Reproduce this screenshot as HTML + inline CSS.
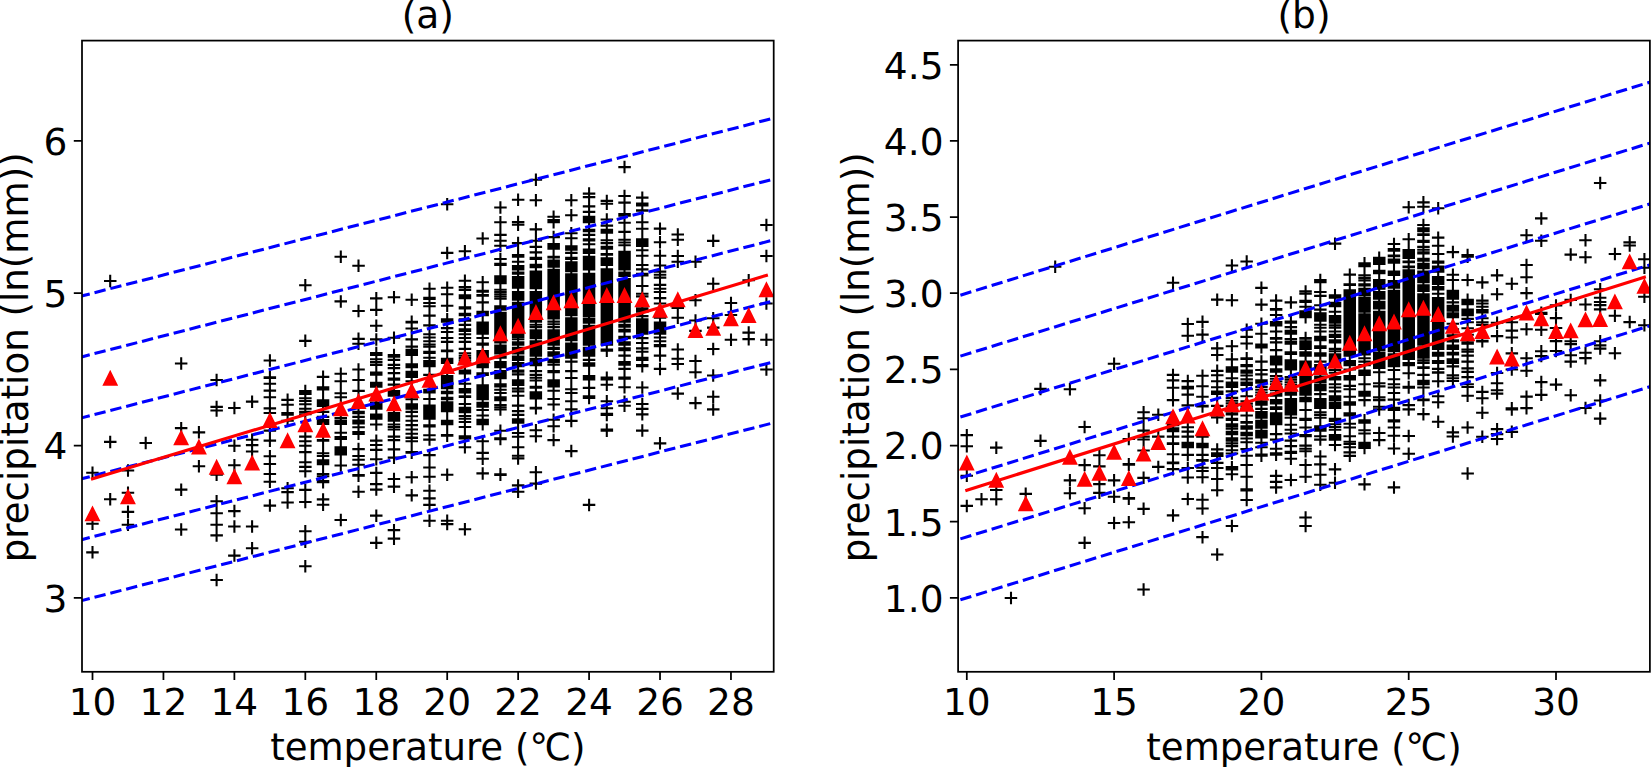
<!DOCTYPE html>
<html><head><meta charset="utf-8"><title>precipitation vs temperature</title>
<style>
html,body{margin:0;padding:0;background:#fff;}
body{width:1651px;height:767px;overflow:hidden;}
svg{display:block}
text{font-family:"DejaVu Sans","Liberation Sans",sans-serif;font-size:37.5px;fill:#000}
</style></head><body>
<svg width="1651" height="767" viewBox="0 0 1651 767">
<rect width="1651" height="767" fill="#fff"/>

<defs><clipPath id="clip1"><rect x="82.0" y="40.6" width="691.7" height="631.1999999999999"/></clipPath></defs>
<g clip-path="url(#clip1)">
<path d="M86.2 472.7h12.5M92.5 466.4v12.5M86.2 523.8h12.5M92.5 517.5v12.5M86.2 552.4h12.5M92.5 546.1v12.5M104.0 281.0h12.5M110.2 274.7v12.5M104.0 441.9h12.5M110.2 435.7v12.5M104.0 499.2h12.5M110.2 492.9v12.5M121.7 470.5h12.5M128.0 464.3v12.5M121.7 492.8h12.5M128.0 486.5v12.5M121.7 511.9h12.5M128.0 505.6v12.5M121.7 524.8h12.5M128.0 518.6v12.5M139.5 443.0h12.5M145.7 436.7v12.5M174.9 363.5h12.5M181.2 357.2v12.5M174.9 428.1h12.5M181.2 421.9v12.5M174.9 489.6h12.5M181.2 483.4v12.5M174.9 529.5h12.5M181.2 523.3v12.5M192.7 432.4h12.5M198.9 426.1v12.5M192.7 466.3h12.5M198.9 460.0v12.5M210.4 380.0h12.5M216.6 373.8v12.5M210.4 406.9h12.5M216.6 400.7v12.5M210.4 410.5h12.5M216.6 404.3v12.5M210.4 474.8h12.5M216.6 468.5v12.5M210.4 501.3h12.5M216.6 495.0v12.5M210.4 513.2h12.5M216.6 506.9v12.5M210.4 524.8h12.5M216.6 518.6v12.5M210.4 535.4h12.5M216.6 529.2v12.5M210.4 580.0h12.5M216.6 573.7v12.5M228.1 408.0h12.5M234.4 401.7v12.5M228.1 445.7h12.5M234.4 439.5v12.5M228.1 465.2h12.5M234.4 459.0v12.5M228.1 511.1h12.5M234.4 504.8v12.5M228.1 526.5h12.5M234.4 520.3v12.5M228.1 555.6h12.5M234.4 549.3v12.5M245.9 401.6h12.5M252.1 395.4v12.5M245.9 439.8h12.5M252.1 433.5v12.5M245.9 445.1h12.5M252.1 438.8v12.5M245.9 451.5h12.5M252.1 445.2v12.5M245.9 526.5h12.5M252.1 520.3v12.5M245.9 548.2h12.5M252.1 541.9v12.5M263.6 360.5h12.5M269.9 354.2v12.5M263.6 377.4h12.5M269.9 371.1v12.5M263.6 378.0h12.5M269.9 371.8v12.5M263.6 383.7h12.5M269.9 377.4v12.5M263.6 390.6h12.5M269.9 384.3v12.5M263.6 397.2h12.5M269.9 390.9v12.5M263.6 408.4h12.5M269.9 402.2v12.5M263.6 413.0h12.5M269.9 406.8v12.5M263.6 430.6h12.5M269.9 424.3v12.5M263.6 440.6h12.5M269.9 434.4v12.5M263.6 456.3h12.5M269.9 450.0v12.5M263.6 464.0h12.5M269.9 457.7v12.5M263.6 474.0h12.5M269.9 467.8v12.5M263.6 481.7h12.5M269.9 475.5v12.5M263.6 505.6h12.5M269.9 499.3v12.5M281.3 399.9h12.5M287.6 393.6v12.5M281.3 404.8h12.5M287.6 398.6v12.5M281.3 413.0h12.5M287.6 406.7v12.5M281.3 413.9h12.5M287.6 407.6v12.5M281.3 414.7h12.5M287.6 408.5v12.5M281.3 420.7h12.5M287.6 414.4v12.5M281.3 488.3h12.5M287.6 482.0v12.5M281.3 492.1h12.5M287.6 485.9v12.5M281.3 502.5h12.5M287.6 496.3v12.5M299.1 285.2h12.5M305.3 279.0v12.5M299.1 340.9h12.5M305.3 334.6v12.5M299.1 391.1h12.5M305.3 384.8v12.5M299.1 392.5h12.5M305.3 386.3v12.5M299.1 393.9h12.5M305.3 387.7v12.5M299.1 398.2h12.5M305.3 392.0v12.5M299.1 401.0h12.5M305.3 394.7v12.5M299.1 404.3h12.5M305.3 398.0v12.5M299.1 408.7h12.5M305.3 402.4v12.5M299.1 411.9h12.5M305.3 405.6v12.5M299.1 414.2h12.5M305.3 407.9v12.5M299.1 436.6h12.5M305.3 430.3v12.5M299.1 441.2h12.5M305.3 434.9v12.5M299.1 445.8h12.5M305.3 439.5v12.5M299.1 452.1h12.5M305.3 445.9v12.5M299.1 462.2h12.5M305.3 456.0v12.5M299.1 466.9h12.5M305.3 460.7v12.5M299.1 471.3h12.5M305.3 465.1v12.5M299.1 489.9h12.5M305.3 483.7v12.5M299.1 502.0h12.5M305.3 495.7v12.5M299.1 531.2h12.5M305.3 524.9v12.5M299.1 541.8h12.5M305.3 535.5v12.5M299.1 566.2h12.5M305.3 559.9v12.5M316.8 376.9h12.5M323.1 370.6v12.5M316.8 387.2h12.5M323.1 381.0v12.5M316.8 388.4h12.5M323.1 382.1v12.5M316.8 389.5h12.5M323.1 383.3v12.5M316.8 400.4h12.5M323.1 394.1v12.5M316.8 401.8h12.5M323.1 395.5v12.5M316.8 403.2h12.5M323.1 396.9v12.5M316.8 404.6h12.5M323.1 398.3v12.5M316.8 406.0h12.5M323.1 399.7v12.5M316.8 411.9h12.5M323.1 405.7v12.5M316.8 416.8h12.5M323.1 410.6v12.5M316.8 416.9h12.5M323.1 410.7v12.5M316.8 420.1h12.5M323.1 413.8v12.5M316.8 422.1h12.5M323.1 415.8v12.5M316.8 424.0h12.5M323.1 417.8v12.5M316.8 440.0h12.5M323.1 433.8v12.5M316.8 440.7h12.5M323.1 434.4v12.5M316.8 453.2h12.5M323.1 447.0v12.5M316.8 456.0h12.5M323.1 449.7v12.5M316.8 460.3h12.5M323.1 454.0v12.5M316.8 461.6h12.5M323.1 455.4v12.5M316.8 462.9h12.5M323.1 456.7v12.5M316.8 464.2h12.5M323.1 458.0v12.5M316.8 474.0h12.5M323.1 467.7v12.5M316.8 476.3h12.5M323.1 470.0v12.5M316.8 481.1h12.5M323.1 474.9v12.5M316.8 482.3h12.5M323.1 476.1v12.5M316.8 499.4h12.5M323.1 493.2v12.5M316.8 504.7h12.5M323.1 498.4v12.5M334.5 256.8h12.5M340.8 250.6v12.5M334.5 301.4h12.5M340.8 295.2v12.5M334.5 373.8h12.5M340.8 367.6v12.5M334.5 381.3h12.5M340.8 375.0v12.5M334.5 393.3h12.5M340.8 387.1v12.5M334.5 397.2h12.5M340.8 390.9v12.5M334.5 418.0h12.5M340.8 411.7v12.5M334.5 420.6h12.5M340.8 414.4v12.5M334.5 422.3h12.5M340.8 416.1v12.5M334.5 424.0h12.5M340.8 417.8v12.5M334.5 432.7h12.5M340.8 426.5v12.5M334.5 437.1h12.5M340.8 430.8v12.5M334.5 437.9h12.5M340.8 431.7v12.5M334.5 439.0h12.5M340.8 432.8v12.5M334.5 447.2h12.5M340.8 440.9v12.5M334.5 448.6h12.5M340.8 442.4v12.5M334.5 450.0h12.5M340.8 443.8v12.5M334.5 451.5h12.5M340.8 445.2v12.5M334.5 452.9h12.5M340.8 446.7v12.5M334.5 454.4h12.5M340.8 448.1v12.5M334.5 465.5h12.5M340.8 459.2v12.5M334.5 520.0h12.5M340.8 513.8v12.5M352.3 265.7h12.5M358.5 259.5v12.5M352.3 311.0h12.5M358.5 304.7v12.5M352.3 338.9h12.5M358.5 332.6v12.5M352.3 343.8h12.5M358.5 337.6v12.5M352.3 369.5h12.5M358.5 363.2v12.5M352.3 380.0h12.5M358.5 373.7v12.5M352.3 390.9h12.5M358.5 384.7v12.5M352.3 411.9h12.5M358.5 405.6v12.5M352.3 413.1h12.5M358.5 406.8v12.5M352.3 416.9h12.5M358.5 410.6v12.5M352.3 420.6h12.5M358.5 414.4v12.5M352.3 422.1h12.5M358.5 415.8v12.5M352.3 423.5h12.5M358.5 417.2v12.5M352.3 427.3h12.5M358.5 421.0v12.5M352.3 432.1h12.5M358.5 425.9v12.5M352.3 433.0h12.5M358.5 426.8v12.5M352.3 433.9h12.5M358.5 427.6v12.5M352.3 449.1h12.5M358.5 442.8v12.5M352.3 456.0h12.5M358.5 449.7v12.5M352.3 459.8h12.5M358.5 453.6v12.5M352.3 464.7h12.5M358.5 458.5v12.5M352.3 475.1h12.5M358.5 468.8v12.5M352.3 475.7h12.5M358.5 469.5v12.5M352.3 491.8h12.5M358.5 485.5v12.5M370.0 298.4h12.5M376.3 292.1v12.5M370.0 309.9h12.5M376.3 303.6v12.5M370.0 325.7h12.5M376.3 319.5v12.5M370.0 339.4h12.5M376.3 333.2v12.5M370.0 353.1h12.5M376.3 346.8v12.5M370.0 353.9h12.5M376.3 347.7v12.5M370.0 355.0h12.5M376.3 348.8v12.5M370.0 359.3h12.5M376.3 353.1v12.5M370.0 362.1h12.5M376.3 355.9v12.5M370.0 364.9h12.5M376.3 358.7v12.5M370.0 372.5h12.5M376.3 366.2v12.5M370.0 373.6h12.5M376.3 367.4v12.5M370.0 374.8h12.5M376.3 368.5v12.5M370.0 382.9h12.5M376.3 376.6v12.5M370.0 384.2h12.5M376.3 377.9v12.5M370.0 385.5h12.5M376.3 379.2v12.5M370.0 386.8h12.5M376.3 380.6v12.5M370.0 402.6h12.5M376.3 396.3v12.5M370.0 404.1h12.5M376.3 397.9v12.5M370.0 405.6h12.5M376.3 399.4v12.5M370.0 407.2h12.5M376.3 400.9v12.5M370.0 408.7h12.5M376.3 402.5v12.5M370.0 414.6h12.5M376.3 408.4v12.5M370.0 416.6h12.5M376.3 410.3v12.5M370.0 418.6h12.5M376.3 412.3v12.5M370.0 424.5h12.5M376.3 418.3v12.5M370.0 440.6h12.5M376.3 434.4v12.5M370.0 445.0h12.5M376.3 438.8v12.5M370.0 449.9h12.5M376.3 443.7v12.5M370.0 459.3h12.5M376.3 453.0v12.5M370.0 472.9h12.5M376.3 466.7v12.5M370.0 484.1h12.5M376.3 477.9v12.5M370.0 489.6h12.5M376.3 483.3v12.5M370.0 515.6h12.5M376.3 509.4v12.5M370.0 542.9h12.5M376.3 536.6v12.5M387.7 297.3h12.5M394.0 291.0v12.5M387.7 337.8h12.5M394.0 331.5v12.5M387.7 355.0h12.5M394.0 348.7v12.5M387.7 356.0h12.5M394.0 349.8v12.5M387.7 356.7h12.5M394.0 350.4v12.5M387.7 359.9h12.5M394.0 353.7v12.5M387.7 364.9h12.5M394.0 358.6v12.5M387.7 368.1h12.5M394.0 361.9v12.5M387.7 373.1h12.5M394.0 366.8v12.5M387.7 378.5h12.5M394.0 372.2v12.5M387.7 379.7h12.5M394.0 373.4v12.5M387.7 384.6h12.5M394.0 378.3v12.5M387.7 391.1h12.5M394.0 384.8v12.5M387.7 392.6h12.5M394.0 386.3v12.5M387.7 394.1h12.5M394.0 387.8v12.5M387.7 395.6h12.5M394.0 389.3v12.5M387.7 413.0h12.5M394.0 406.7v12.5M387.7 414.5h12.5M394.0 408.3v12.5M387.7 416.1h12.5M394.0 409.8v12.5M387.7 417.6h12.5M394.0 411.4v12.5M387.7 419.2h12.5M394.0 412.9v12.5M387.7 420.8h12.5M394.0 414.5v12.5M387.7 424.5h12.5M394.0 418.2v12.5M387.7 427.0h12.5M394.0 420.7v12.5M387.7 429.5h12.5M394.0 423.3v12.5M387.7 436.6h12.5M394.0 430.3v12.5M387.7 440.0h12.5M394.0 433.8v12.5M387.7 440.1h12.5M394.0 433.9v12.5M387.7 449.4h12.5M394.0 443.2v12.5M387.7 457.6h12.5M394.0 451.4v12.5M387.7 479.0h12.5M394.0 472.7v12.5M387.7 486.6h12.5M394.0 480.4v12.5M387.7 530.1h12.5M394.0 523.9v12.5M387.7 538.6h12.5M394.0 532.4v12.5M405.5 299.7h12.5M411.7 293.4v12.5M405.5 321.9h12.5M411.7 315.6v12.5M405.5 322.5h12.5M411.7 316.3v12.5M405.5 328.5h12.5M411.7 322.2v12.5M405.5 339.4h12.5M411.7 333.2v12.5M405.5 346.6h12.5M411.7 340.3v12.5M405.5 349.8h12.5M411.7 343.5v12.5M405.5 351.5h12.5M411.7 345.2v12.5M405.5 353.2h12.5M411.7 346.9v12.5M405.5 355.0h12.5M411.7 348.8v12.5M405.5 364.3h12.5M411.7 358.0v12.5M405.5 365.7h12.5M411.7 359.4v12.5M405.5 367.1h12.5M411.7 360.8v12.5M405.5 371.9h12.5M411.7 365.7v12.5M405.5 373.6h12.5M411.7 367.3v12.5M405.5 375.3h12.5M411.7 369.0v12.5M405.5 377.0h12.5M411.7 370.7v12.5M405.5 381.3h12.5M411.7 375.0v12.5M405.5 399.3h12.5M411.7 393.1v12.5M405.5 404.2h12.5M411.7 398.0v12.5M405.5 405.7h12.5M411.7 399.5v12.5M405.5 407.2h12.5M411.7 401.0v12.5M405.5 408.7h12.5M411.7 402.5v12.5M405.5 411.9h12.5M411.7 405.7v12.5M405.5 416.3h12.5M411.7 410.1v12.5M405.5 420.7h12.5M411.7 414.4v12.5M405.5 425.1h12.5M411.7 418.8v12.5M405.5 429.5h12.5M411.7 423.2v12.5M405.5 433.8h12.5M411.7 427.6v12.5M405.5 437.6h12.5M411.7 431.4v12.5M405.5 437.9h12.5M411.7 431.7v12.5M405.5 441.2h12.5M411.7 434.9v12.5M405.5 452.1h12.5M411.7 445.8v12.5M405.5 452.7h12.5M411.7 446.5v12.5M405.5 477.3h12.5M411.7 471.1v12.5M405.5 495.4h12.5M411.7 489.1v12.5M423.2 288.8h12.5M429.5 282.5v12.5M423.2 297.7h12.5M429.5 291.4v12.5M423.2 299.0h12.5M429.5 292.7v12.5M423.2 303.0h12.5M429.5 296.7v12.5M423.2 306.3h12.5M429.5 300.0v12.5M423.2 315.6h12.5M429.5 309.3v12.5M423.2 325.4h12.5M429.5 319.2v12.5M423.2 334.2h12.5M429.5 327.9v12.5M423.2 337.5h12.5M429.5 331.2v12.5M423.2 341.3h12.5M429.5 335.1v12.5M423.2 344.5h12.5M429.5 338.3v12.5M423.2 346.8h12.5M429.5 340.6v12.5M423.2 351.7h12.5M429.5 345.4v12.5M423.2 352.9h12.5M429.5 346.6v12.5M423.2 357.7h12.5M429.5 351.5v12.5M423.2 361.0h12.5M429.5 354.7v12.5M423.2 362.0h12.5M429.5 355.7v12.5M423.2 362.9h12.5M429.5 356.7v12.5M423.2 365.0h12.5M429.5 358.8v12.5M423.2 366.2h12.5M429.5 360.0v12.5M423.2 374.9h12.5M429.5 368.7v12.5M423.2 389.7h12.5M429.5 383.4v12.5M423.2 391.1h12.5M429.5 384.8v12.5M423.2 392.5h12.5M429.5 386.3v12.5M423.2 399.0h12.5M429.5 392.8v12.5M423.2 405.6h12.5M429.5 399.3v12.5M423.2 407.2h12.5M429.5 401.0v12.5M423.2 408.9h12.5M429.5 402.6v12.5M423.2 410.5h12.5M429.5 404.3v12.5M423.2 412.2h12.5M429.5 405.9v12.5M423.2 413.8h12.5M429.5 407.6v12.5M423.2 415.5h12.5M429.5 409.2v12.5M423.2 417.1h12.5M429.5 410.9v12.5M423.2 418.8h12.5M429.5 412.6v12.5M423.2 425.3h12.5M429.5 419.0v12.5M423.2 426.5h12.5M429.5 420.2v12.5M423.2 435.2h12.5M429.5 428.9v12.5M423.2 439.6h12.5M429.5 433.3v12.5M423.2 455.1h12.5M429.5 448.9v12.5M423.2 467.5h12.5M429.5 461.2v12.5M423.2 476.7h12.5M429.5 470.4v12.5M423.2 490.7h12.5M429.5 484.5v12.5M423.2 498.4h12.5M429.5 492.1v12.5M423.2 504.9h12.5M429.5 498.7v12.5M423.2 520.8h12.5M429.5 514.6v12.5M440.9 204.2h12.5M447.2 198.0v12.5M440.9 252.9h12.5M447.2 246.7v12.5M440.9 287.7h12.5M447.2 281.4v12.5M440.9 294.2h12.5M447.2 288.0v12.5M440.9 305.7h12.5M447.2 299.5v12.5M440.9 319.4h12.5M447.2 313.1v12.5M440.9 320.5h12.5M447.2 314.3v12.5M440.9 321.7h12.5M447.2 315.4v12.5M440.9 328.1h12.5M447.2 321.9v12.5M440.9 328.2h12.5M447.2 322.0v12.5M440.9 332.0h12.5M447.2 325.8v12.5M440.9 338.0h12.5M447.2 331.8v12.5M440.9 341.9h12.5M447.2 335.6v12.5M440.9 350.6h12.5M447.2 344.3v12.5M440.9 351.2h12.5M447.2 345.0v12.5M440.9 358.8h12.5M447.2 352.5v12.5M440.9 360.2h12.5M447.2 353.9v12.5M440.9 361.6h12.5M447.2 355.3v12.5M440.9 362.9h12.5M447.2 356.7v12.5M440.9 376.0h12.5M447.2 369.7v12.5M440.9 377.5h12.5M447.2 371.3v12.5M440.9 379.0h12.5M447.2 372.8v12.5M440.9 380.5h12.5M447.2 374.3v12.5M440.9 382.1h12.5M447.2 375.8v12.5M440.9 383.6h12.5M447.2 377.3v12.5M440.9 385.1h12.5M447.2 378.9v12.5M440.9 386.6h12.5M447.2 380.4v12.5M440.9 388.1h12.5M447.2 381.9v12.5M440.9 391.9h12.5M447.2 385.6v12.5M440.9 393.1h12.5M447.2 386.8v12.5M440.9 397.9h12.5M447.2 391.6v12.5M440.9 399.1h12.5M447.2 392.8v12.5M440.9 402.3h12.5M447.2 396.0v12.5M440.9 403.7h12.5M447.2 397.5v12.5M440.9 405.2h12.5M447.2 399.0v12.5M440.9 406.7h12.5M447.2 400.5v12.5M440.9 408.2h12.5M447.2 401.9v12.5M440.9 409.7h12.5M447.2 403.4v12.5M440.9 411.1h12.5M447.2 404.9v12.5M440.9 420.9h12.5M447.2 414.6v12.5M440.9 422.6h12.5M447.2 416.3v12.5M440.9 424.3h12.5M447.2 418.0v12.5M440.9 435.1h12.5M447.2 428.9v12.5M440.9 435.8h12.5M447.2 429.5v12.5M440.9 474.8h12.5M447.2 468.6v12.5M440.9 520.8h12.5M447.2 514.6v12.5M440.9 524.1h12.5M447.2 517.8v12.5M458.7 251.3h12.5M464.9 245.0v12.5M458.7 280.8h12.5M464.9 274.6v12.5M458.7 280.8h12.5M464.9 274.6v12.5M458.7 287.1h12.5M464.9 280.8v12.5M458.7 289.9h12.5M464.9 283.7v12.5M458.7 295.3h12.5M464.9 289.0v12.5M458.7 296.7h12.5M464.9 290.4v12.5M458.7 298.1h12.5M464.9 291.9v12.5M458.7 307.3h12.5M464.9 301.1v12.5M458.7 308.5h12.5M464.9 302.3v12.5M458.7 313.9h12.5M464.9 307.6v12.5M458.7 315.1h12.5M464.9 308.8v12.5M458.7 319.4h12.5M464.9 313.1v12.5M458.7 320.6h12.5M464.9 314.3v12.5M458.7 324.8h12.5M464.9 318.6v12.5M458.7 324.9h12.5M464.9 318.7v12.5M458.7 329.2h12.5M464.9 323.0v12.5M458.7 330.1h12.5M464.9 323.8v12.5M458.7 331.0h12.5M464.9 324.7v12.5M458.7 334.2h12.5M464.9 327.9v12.5M458.7 338.0h12.5M464.9 331.8v12.5M458.7 341.9h12.5M464.9 335.6v12.5M458.7 348.9h12.5M464.9 342.7v12.5M458.7 349.0h12.5M464.9 342.8v12.5M458.7 353.3h12.5M464.9 347.1v12.5M458.7 355.7h12.5M464.9 349.5v12.5M458.7 358.1h12.5M464.9 351.9v12.5M458.7 360.5h12.5M464.9 354.3v12.5M458.7 362.9h12.5M464.9 356.7v12.5M458.7 370.5h12.5M464.9 364.3v12.5M458.7 371.9h12.5M464.9 365.7v12.5M458.7 373.4h12.5M464.9 367.1v12.5M458.7 383.7h12.5M464.9 377.5v12.5M458.7 389.1h12.5M464.9 382.9v12.5M458.7 390.8h12.5M464.9 384.6v12.5M458.7 392.5h12.5M464.9 386.3v12.5M458.7 396.2h12.5M464.9 390.0v12.5M458.7 396.9h12.5M464.9 390.7v12.5M458.7 404.0h12.5M464.9 397.7v12.5M458.7 407.7h12.5M464.9 401.5v12.5M458.7 409.2h12.5M464.9 403.0v12.5M458.7 410.7h12.5M464.9 404.5v12.5M458.7 412.2h12.5M464.9 406.0v12.5M458.7 416.0h12.5M464.9 409.8v12.5M458.7 418.7h12.5M464.9 412.5v12.5M458.7 422.0h12.5M464.9 415.8v12.5M458.7 427.0h12.5M464.9 420.7v12.5M458.7 436.2h12.5M464.9 430.0v12.5M458.7 437.4h12.5M464.9 431.1v12.5M458.7 438.5h12.5M464.9 432.3v12.5M458.7 447.2h12.5M464.9 441.0v12.5M458.7 529.2h12.5M464.9 523.0v12.5M476.4 238.5h12.5M482.7 232.2v12.5M476.4 282.2h12.5M482.7 275.9v12.5M476.4 290.9h12.5M482.7 284.6v12.5M476.4 291.6h12.5M482.7 285.3v12.5M476.4 295.1h12.5M482.7 288.8v12.5M476.4 295.6h12.5M482.7 289.4v12.5M476.4 302.4h12.5M482.7 296.2v12.5M476.4 311.7h12.5M482.7 305.4v12.5M476.4 313.4h12.5M482.7 307.1v12.5M476.4 315.1h12.5M482.7 308.8v12.5M476.4 322.6h12.5M482.7 316.4v12.5M476.4 324.2h12.5M482.7 318.0v12.5M476.4 325.8h12.5M482.7 319.6v12.5M476.4 327.4h12.5M482.7 321.1v12.5M476.4 329.0h12.5M482.7 322.7v12.5M476.4 330.5h12.5M482.7 324.3v12.5M476.4 332.1h12.5M482.7 325.9v12.5M476.4 333.7h12.5M482.7 327.5v12.5M476.4 338.0h12.5M482.7 331.8v12.5M476.4 343.5h12.5M482.7 337.2v12.5M476.4 344.7h12.5M482.7 338.4v12.5M476.4 351.1h12.5M482.7 344.9v12.5M476.4 352.8h12.5M482.7 346.6v12.5M476.4 354.5h12.5M482.7 348.2v12.5M476.4 356.2h12.5M482.7 349.9v12.5M476.4 357.9h12.5M482.7 351.6v12.5M476.4 359.6h12.5M482.7 353.3v12.5M476.4 361.3h12.5M482.7 355.0v12.5M476.4 362.9h12.5M482.7 356.7v12.5M476.4 365.0h12.5M482.7 358.8v12.5M476.4 366.2h12.5M482.7 359.9v12.5M476.4 367.3h12.5M482.7 361.1v12.5M476.4 373.3h12.5M482.7 367.0v12.5M476.4 374.1h12.5M482.7 367.9v12.5M476.4 375.0h12.5M482.7 368.8v12.5M476.4 385.3h12.5M482.7 379.0v12.5M476.4 386.8h12.5M482.7 380.6v12.5M476.4 388.4h12.5M482.7 382.1v12.5M476.4 389.9h12.5M482.7 383.6v12.5M476.4 391.4h12.5M482.7 385.2v12.5M476.4 393.0h12.5M482.7 386.7v12.5M476.4 394.5h12.5M482.7 388.2v12.5M476.4 396.0h12.5M482.7 389.8v12.5M476.4 397.6h12.5M482.7 391.3v12.5M476.4 399.1h12.5M482.7 392.8v12.5M476.4 402.8h12.5M482.7 396.6v12.5M476.4 404.8h12.5M482.7 398.5v12.5M476.4 406.8h12.5M482.7 400.5v12.5M476.4 410.0h12.5M482.7 403.7v12.5M476.4 415.5h12.5M482.7 409.2v12.5M476.4 419.8h12.5M482.7 413.5v12.5M476.4 421.3h12.5M482.7 415.0v12.5M476.4 422.8h12.5M482.7 416.5v12.5M476.4 424.3h12.5M482.7 418.0v12.5M476.4 441.2h12.5M482.7 434.9v12.5M476.4 452.9h12.5M482.7 446.7v12.5M476.4 458.7h12.5M482.7 452.5v12.5M476.4 473.4h12.5M482.7 467.2v12.5M494.2 207.5h12.5M500.4 201.2v12.5M494.2 222.3h12.5M500.4 216.0v12.5M494.2 234.9h12.5M500.4 228.6v12.5M494.2 240.7h12.5M500.4 234.4v12.5M494.2 245.8h12.5M500.4 239.6v12.5M494.2 259.0h12.5M500.4 252.7v12.5M494.2 263.8h12.5M500.4 257.6v12.5M494.2 265.0h12.5M500.4 258.8v12.5M494.2 276.4h12.5M500.4 270.2v12.5M494.2 277.7h12.5M500.4 271.4v12.5M494.2 278.9h12.5M500.4 272.7v12.5M494.2 281.0h12.5M500.4 274.8v12.5M494.2 282.2h12.5M500.4 275.9v12.5M494.2 283.3h12.5M500.4 277.1v12.5M494.2 289.8h12.5M500.4 283.5v12.5M494.2 292.0h12.5M500.4 285.8v12.5M494.2 294.2h12.5M500.4 288.0v12.5M494.2 296.5h12.5M500.4 290.2v12.5M494.2 298.7h12.5M500.4 292.4v12.5M494.2 306.2h12.5M500.4 300.0v12.5M494.2 307.9h12.5M500.4 301.7v12.5M494.2 309.6h12.5M500.4 303.4v12.5M494.2 312.8h12.5M500.4 306.5v12.5M494.2 314.4h12.5M500.4 308.2v12.5M494.2 316.0h12.5M500.4 309.8v12.5M494.2 317.6h12.5M500.4 311.4v12.5M494.2 319.3h12.5M500.4 313.0v12.5M494.2 320.9h12.5M500.4 314.6v12.5M494.2 322.5h12.5M500.4 316.2v12.5M494.2 324.1h12.5M500.4 317.9v12.5M494.2 325.7h12.5M500.4 319.5v12.5M494.2 327.3h12.5M500.4 321.1v12.5M494.2 329.0h12.5M500.4 322.7v12.5M494.2 330.6h12.5M500.4 324.3v12.5M494.2 332.2h12.5M500.4 325.9v12.5M494.2 333.8h12.5M500.4 327.6v12.5M494.2 335.4h12.5M500.4 329.2v12.5M494.2 337.0h12.5M500.4 330.8v12.5M494.2 338.7h12.5M500.4 332.4v12.5M494.2 340.3h12.5M500.4 334.0v12.5M494.2 342.4h12.5M500.4 336.2v12.5M494.2 345.6h12.5M500.4 339.4v12.5M494.2 347.2h12.5M500.4 340.9v12.5M494.2 348.8h12.5M500.4 342.5v12.5M494.2 350.3h12.5M500.4 344.1v12.5M494.2 351.9h12.5M500.4 345.6v12.5M494.2 353.4h12.5M500.4 347.2v12.5M494.2 356.6h12.5M500.4 350.3v12.5M494.2 357.8h12.5M500.4 351.5v12.5M494.2 362.1h12.5M500.4 355.8v12.5M494.2 362.9h12.5M500.4 356.7v12.5M494.2 365.0h12.5M500.4 358.8v12.5M494.2 366.2h12.5M500.4 359.9v12.5M494.2 367.3h12.5M500.4 361.1v12.5M494.2 371.1h12.5M500.4 364.8v12.5M494.2 372.5h12.5M500.4 366.3v12.5M494.2 374.0h12.5M500.4 367.7v12.5M494.2 375.4h12.5M500.4 369.1v12.5M494.2 376.8h12.5M500.4 370.6v12.5M494.2 378.3h12.5M500.4 372.0v12.5M494.2 384.2h12.5M500.4 378.0v12.5M494.2 385.4h12.5M500.4 379.1v12.5M494.2 386.5h12.5M500.4 380.3v12.5M494.2 389.7h12.5M500.4 383.5v12.5M494.2 393.0h12.5M500.4 386.8v12.5M494.2 397.3h12.5M500.4 391.1v12.5M494.2 398.8h12.5M500.4 392.5v12.5M494.2 400.2h12.5M500.4 393.9v12.5M494.2 405.0h12.5M500.4 398.8v12.5M494.2 407.2h12.5M500.4 401.0v12.5M494.2 409.5h12.5M500.4 403.2v12.5M494.2 430.8h12.5M500.4 424.5v12.5M494.2 438.4h12.5M500.4 432.2v12.5M494.2 439.1h12.5M500.4 432.8v12.5M494.2 474.2h12.5M500.4 468.0v12.5M494.2 474.9h12.5M500.4 468.6v12.5M511.9 199.8h12.5M518.1 193.6v12.5M511.9 222.1h12.5M518.1 215.8v12.5M511.9 224.7h12.5M518.1 218.4v12.5M511.9 243.1h12.5M518.1 236.8v12.5M511.9 255.1h12.5M518.1 248.8v12.5M511.9 255.9h12.5M518.1 249.7v12.5M511.9 256.8h12.5M518.1 250.6v12.5M511.9 261.7h12.5M518.1 255.4v12.5M511.9 266.0h12.5M518.1 259.8v12.5M511.9 267.7h12.5M518.1 261.5v12.5M511.9 269.4h12.5M518.1 263.2v12.5M511.9 272.6h12.5M518.1 266.3v12.5M511.9 273.8h12.5M518.1 267.5v12.5M511.9 277.0h12.5M518.1 270.7v12.5M511.9 278.0h12.5M518.1 271.7v12.5M511.9 278.9h12.5M518.1 272.7v12.5M511.9 281.0h12.5M518.1 274.8v12.5M511.9 282.7h12.5M518.1 276.5v12.5M511.9 284.4h12.5M518.1 278.1v12.5M511.9 286.0h12.5M518.1 279.8v12.5M511.9 287.7h12.5M518.1 281.5v12.5M511.9 292.0h12.5M518.1 285.7v12.5M511.9 293.5h12.5M518.1 287.3v12.5M511.9 295.1h12.5M518.1 288.8v12.5M511.9 296.7h12.5M518.1 290.4v12.5M511.9 298.2h12.5M518.1 292.0v12.5M511.9 299.8h12.5M518.1 293.5v12.5M511.9 302.9h12.5M518.1 296.7v12.5M511.9 304.6h12.5M518.1 298.3v12.5M511.9 306.2h12.5M518.1 300.0v12.5M511.9 307.9h12.5M518.1 301.6v12.5M511.9 309.5h12.5M518.1 303.3v12.5M511.9 311.2h12.5M518.1 304.9v12.5M511.9 312.8h12.5M518.1 306.6v12.5M511.9 314.5h12.5M518.1 308.2v12.5M511.9 316.1h12.5M518.1 309.9v12.5M511.9 317.8h12.5M518.1 311.5v12.5M511.9 319.4h12.5M518.1 313.2v12.5M511.9 321.1h12.5M518.1 314.8v12.5M511.9 322.7h12.5M518.1 316.5v12.5M511.9 324.4h12.5M518.1 318.1v12.5M511.9 326.0h12.5M518.1 319.8v12.5M511.9 327.7h12.5M518.1 321.4v12.5M511.9 329.3h12.5M518.1 323.1v12.5M511.9 331.0h12.5M518.1 324.7v12.5M511.9 332.6h12.5M518.1 326.4v12.5M511.9 334.7h12.5M518.1 328.4v12.5M511.9 336.9h12.5M518.1 330.7v12.5M511.9 339.2h12.5M518.1 332.9v12.5M511.9 342.4h12.5M518.1 336.1v12.5M511.9 343.5h12.5M518.1 337.3v12.5M511.9 344.7h12.5M518.1 338.4v12.5M511.9 347.8h12.5M518.1 341.6v12.5M511.9 349.2h12.5M518.1 343.0v12.5M511.9 350.6h12.5M518.1 344.4v12.5M511.9 352.0h12.5M518.1 345.8v12.5M511.9 353.4h12.5M518.1 347.2v12.5M511.9 356.6h12.5M518.1 350.3v12.5M511.9 358.3h12.5M518.1 352.0v12.5M511.9 360.0h12.5M518.1 353.7v12.5M511.9 363.1h12.5M518.1 356.8v12.5M511.9 363.1h12.5M518.1 356.8v12.5M511.9 365.0h12.5M518.1 358.8v12.5M511.9 366.2h12.5M518.1 360.0v12.5M511.9 370.5h12.5M518.1 364.3v12.5M511.9 371.7h12.5M518.1 365.5v12.5M511.9 374.4h12.5M518.1 368.2v12.5M511.9 380.4h12.5M518.1 374.1v12.5M511.9 381.9h12.5M518.1 375.6v12.5M511.9 383.4h12.5M518.1 377.1v12.5M511.9 384.9h12.5M518.1 378.6v12.5M511.9 388.6h12.5M518.1 382.3v12.5M511.9 391.4h12.5M518.1 385.2v12.5M511.9 395.8h12.5M518.1 389.5v12.5M511.9 405.6h12.5M518.1 399.4v12.5M511.9 411.1h12.5M518.1 404.8v12.5M511.9 414.9h12.5M518.1 408.7v12.5M511.9 419.2h12.5M518.1 413.0v12.5M511.9 420.9h12.5M518.1 414.7v12.5M511.9 422.6h12.5M518.1 416.4v12.5M511.9 433.0h12.5M518.1 426.7v12.5M511.9 436.8h12.5M518.1 430.6v12.5M511.9 447.2h12.5M518.1 441.0v12.5M511.9 455.7h12.5M518.1 449.4v12.5M511.9 458.4h12.5M518.1 452.2v12.5M511.9 485.4h12.5M518.1 479.2v12.5M511.9 491.8h12.5M518.1 485.5v12.5M529.6 179.8h12.5M535.9 173.6v12.5M529.6 200.2h12.5M535.9 193.9v12.5M529.6 229.4h12.5M535.9 223.1v12.5M529.6 240.7h12.5M535.9 234.4v12.5M529.6 246.9h12.5M535.9 240.7v12.5M529.6 252.4h12.5M535.9 246.1v12.5M529.6 257.8h12.5M535.9 251.6v12.5M529.6 259.0h12.5M535.9 252.8v12.5M529.6 264.9h12.5M535.9 258.7v12.5M529.6 266.1h12.5M535.9 259.8v12.5M529.6 267.2h12.5M535.9 261.0v12.5M529.6 271.5h12.5M535.9 265.2v12.5M529.6 273.0h12.5M535.9 266.7v12.5M529.6 274.5h12.5M535.9 268.2v12.5M529.6 276.0h12.5M535.9 269.7v12.5M529.6 277.5h12.5M535.9 271.2v12.5M529.6 278.9h12.5M535.9 272.7v12.5M529.6 281.0h12.5M535.9 274.8v12.5M529.6 282.5h12.5M535.9 276.2v12.5M529.6 283.9h12.5M535.9 277.7v12.5M529.6 285.4h12.5M535.9 279.1v12.5M529.6 286.8h12.5M535.9 280.6v12.5M529.6 288.3h12.5M535.9 282.0v12.5M529.6 292.0h12.5M535.9 285.7v12.5M529.6 293.6h12.5M535.9 287.4v12.5M529.6 295.2h12.5M535.9 289.0v12.5M529.6 296.8h12.5M535.9 290.6v12.5M529.6 298.5h12.5M535.9 292.2v12.5M529.6 300.1h12.5M535.9 293.8v12.5M529.6 301.7h12.5M535.9 295.4v12.5M529.6 303.3h12.5M535.9 297.1v12.5M529.6 304.9h12.5M535.9 298.7v12.5M529.6 306.5h12.5M535.9 300.3v12.5M529.6 308.2h12.5M535.9 301.9v12.5M529.6 309.8h12.5M535.9 303.5v12.5M529.6 311.4h12.5M535.9 305.1v12.5M529.6 313.0h12.5M535.9 306.8v12.5M529.6 314.6h12.5M535.9 308.4v12.5M529.6 316.2h12.5M535.9 310.0v12.5M529.6 317.9h12.5M535.9 311.6v12.5M529.6 319.5h12.5M535.9 313.2v12.5M529.6 321.6h12.5M535.9 315.3v12.5M529.6 321.7h12.5M535.9 315.4v12.5M529.6 324.8h12.5M535.9 318.6v12.5M529.6 327.1h12.5M535.9 320.9v12.5M529.6 330.3h12.5M535.9 324.1v12.5M529.6 331.9h12.5M535.9 325.6v12.5M529.6 333.4h12.5M535.9 327.2v12.5M529.6 335.0h12.5M535.9 328.7v12.5M529.6 336.5h12.5M535.9 330.3v12.5M529.6 338.1h12.5M535.9 331.8v12.5M529.6 341.3h12.5M535.9 335.0v12.5M529.6 342.9h12.5M535.9 336.6v12.5M529.6 344.4h12.5M535.9 338.2v12.5M529.6 346.0h12.5M535.9 339.8v12.5M529.6 347.6h12.5M535.9 341.4v12.5M529.6 349.2h12.5M535.9 343.0v12.5M529.6 350.8h12.5M535.9 344.6v12.5M529.6 352.4h12.5M535.9 346.2v12.5M529.6 354.0h12.5M535.9 347.8v12.5M529.6 355.6h12.5M535.9 349.4v12.5M529.6 358.8h12.5M535.9 352.5v12.5M529.6 360.2h12.5M535.9 353.9v12.5M529.6 361.6h12.5M535.9 355.3v12.5M529.6 362.9h12.5M535.9 356.7v12.5M529.6 365.0h12.5M535.9 358.8v12.5M529.6 365.1h12.5M535.9 358.9v12.5M529.6 371.1h12.5M535.9 364.9v12.5M529.6 374.9h12.5M535.9 368.6v12.5M529.6 377.7h12.5M535.9 371.4v12.5M529.6 380.5h12.5M535.9 374.2v12.5M529.6 386.9h12.5M535.9 380.7v12.5M529.6 387.6h12.5M535.9 381.3v12.5M529.6 392.4h12.5M535.9 386.2v12.5M529.6 394.5h12.5M535.9 388.2v12.5M529.6 396.5h12.5M535.9 390.3v12.5M529.6 398.5h12.5M535.9 392.3v12.5M529.6 407.7h12.5M535.9 401.5v12.5M529.6 408.4h12.5M535.9 402.1v12.5M529.6 430.2h12.5M535.9 424.0v12.5M529.6 436.3h12.5M535.9 430.0v12.5M529.6 472.3h12.5M535.9 466.1v12.5M529.6 483.6h12.5M535.9 477.3v12.5M547.4 216.8h12.5M553.6 210.6v12.5M547.4 220.0h12.5M553.6 213.8v12.5M547.4 221.2h12.5M553.6 214.9v12.5M547.4 222.3h12.5M553.6 216.1v12.5M547.4 237.1h12.5M553.6 230.8v12.5M547.4 244.1h12.5M553.6 237.9v12.5M547.4 245.6h12.5M553.6 239.4v12.5M547.4 247.1h12.5M553.6 240.9v12.5M547.4 248.6h12.5M553.6 242.4v12.5M547.4 256.7h12.5M553.6 250.5v12.5M547.4 257.4h12.5M553.6 251.1v12.5M547.4 260.5h12.5M553.6 254.3v12.5M547.4 262.1h12.5M553.6 255.8v12.5M547.4 263.6h12.5M553.6 257.4v12.5M547.4 265.1h12.5M553.6 258.9v12.5M547.4 266.7h12.5M553.6 260.4v12.5M547.4 269.9h12.5M553.6 263.6v12.5M547.4 271.4h12.5M553.6 265.1v12.5M547.4 272.9h12.5M553.6 266.6v12.5M547.4 274.4h12.5M553.6 268.1v12.5M547.4 275.9h12.5M553.6 269.7v12.5M547.4 277.4h12.5M553.6 271.2v12.5M547.4 278.9h12.5M553.6 272.7v12.5M547.4 281.0h12.5M553.6 274.8v12.5M547.4 282.7h12.5M553.6 276.5v12.5M547.4 284.4h12.5M553.6 278.2v12.5M547.4 286.1h12.5M553.6 279.9v12.5M547.4 287.8h12.5M553.6 281.6v12.5M547.4 289.5h12.5M553.6 283.3v12.5M547.4 291.2h12.5M553.6 285.0v12.5M547.4 292.9h12.5M553.6 286.7v12.5M547.4 294.6h12.5M553.6 288.4v12.5M547.4 296.3h12.5M553.6 290.1v12.5M547.4 298.0h12.5M553.6 291.8v12.5M547.4 299.7h12.5M553.6 293.5v12.5M547.4 301.4h12.5M553.6 295.2v12.5M547.4 303.1h12.5M553.6 296.9v12.5M547.4 304.8h12.5M553.6 298.6v12.5M547.4 306.5h12.5M553.6 300.2v12.5M547.4 308.2h12.5M553.6 301.9v12.5M547.4 309.9h12.5M553.6 303.6v12.5M547.4 311.6h12.5M553.6 305.3v12.5M547.4 313.3h12.5M553.6 307.0v12.5M547.4 315.0h12.5M553.6 308.7v12.5M547.4 316.7h12.5M553.6 310.4v12.5M547.4 318.4h12.5M553.6 312.1v12.5M547.4 321.6h12.5M553.6 315.3v12.5M547.4 324.3h12.5M553.6 318.1v12.5M547.4 327.1h12.5M553.6 320.9v12.5M547.4 330.3h12.5M553.6 324.1v12.5M547.4 331.9h12.5M553.6 325.7v12.5M547.4 333.5h12.5M553.6 327.2v12.5M547.4 335.1h12.5M553.6 328.8v12.5M547.4 336.7h12.5M553.6 330.4v12.5M547.4 338.3h12.5M553.6 332.0v12.5M547.4 339.9h12.5M553.6 333.6v12.5M547.4 341.5h12.5M553.6 335.2v12.5M547.4 343.1h12.5M553.6 336.8v12.5M547.4 344.7h12.5M553.6 338.4v12.5M547.4 347.8h12.5M553.6 341.6v12.5M547.4 349.0h12.5M553.6 342.8v12.5M547.4 352.2h12.5M553.6 346.0v12.5M547.4 353.9h12.5M553.6 347.7v12.5M547.4 355.6h12.5M553.6 349.4v12.5M547.4 359.9h12.5M553.6 353.6v12.5M547.4 361.0h12.5M553.6 354.8v12.5M547.4 362.2h12.5M553.6 355.9v12.5M547.4 364.8h12.5M553.6 358.6v12.5M547.4 364.8h12.5M553.6 358.6v12.5M547.4 371.1h12.5M553.6 364.8v12.5M547.4 372.3h12.5M553.6 366.0v12.5M547.4 380.4h12.5M553.6 374.1v12.5M547.4 382.4h12.5M553.6 376.2v12.5M547.4 384.5h12.5M553.6 378.2v12.5M547.4 386.5h12.5M553.6 380.3v12.5M547.4 390.8h12.5M553.6 384.6v12.5M547.4 399.0h12.5M553.6 392.8v12.5M547.4 404.5h12.5M553.6 398.3v12.5M547.4 419.8h12.5M553.6 413.6v12.5M547.4 426.2h12.5M553.6 419.9v12.5M547.4 440.1h12.5M553.6 433.8v12.5M565.1 200.2h12.5M571.3 193.9v12.5M565.1 215.2h12.5M571.3 208.9v12.5M565.1 233.2h12.5M571.3 226.9v12.5M565.1 233.3h12.5M571.3 227.0v12.5M565.1 238.2h12.5M571.3 231.9v12.5M565.1 246.3h12.5M571.3 240.1v12.5M565.1 248.0h12.5M571.3 241.8v12.5M565.1 249.7h12.5M571.3 243.5v12.5M565.1 252.9h12.5M571.3 246.7v12.5M565.1 257.8h12.5M571.3 251.6v12.5M565.1 259.0h12.5M571.3 252.8v12.5M565.1 262.2h12.5M571.3 255.9v12.5M565.1 263.7h12.5M571.3 257.4v12.5M565.1 265.1h12.5M571.3 258.9v12.5M565.1 266.6h12.5M571.3 260.4v12.5M565.1 268.1h12.5M571.3 261.9v12.5M565.1 269.6h12.5M571.3 263.3v12.5M565.1 271.1h12.5M571.3 264.8v12.5M565.1 274.2h12.5M571.3 268.0v12.5M565.1 275.8h12.5M571.3 269.6v12.5M565.1 277.4h12.5M571.3 271.1v12.5M565.1 278.9h12.5M571.3 272.7v12.5M565.1 281.0h12.5M571.3 274.8v12.5M565.1 282.7h12.5M571.3 276.4v12.5M565.1 284.3h12.5M571.3 278.0v12.5M565.1 285.9h12.5M571.3 279.7v12.5M565.1 287.5h12.5M571.3 281.3v12.5M565.1 289.1h12.5M571.3 282.9v12.5M565.1 290.8h12.5M571.3 284.5v12.5M565.1 292.4h12.5M571.3 286.1v12.5M565.1 294.0h12.5M571.3 287.8v12.5M565.1 295.6h12.5M571.3 289.4v12.5M565.1 297.3h12.5M571.3 291.0v12.5M565.1 298.9h12.5M571.3 292.6v12.5M565.1 300.5h12.5M571.3 294.2v12.5M565.1 302.1h12.5M571.3 295.9v12.5M565.1 303.7h12.5M571.3 297.5v12.5M565.1 305.4h12.5M571.3 299.1v12.5M565.1 307.0h12.5M571.3 300.7v12.5M565.1 308.6h12.5M571.3 302.4v12.5M565.1 310.2h12.5M571.3 304.0v12.5M565.1 311.8h12.5M571.3 305.6v12.5M565.1 313.5h12.5M571.3 307.2v12.5M565.1 315.1h12.5M571.3 308.8v12.5M565.1 318.3h12.5M571.3 312.0v12.5M565.1 320.0h12.5M571.3 313.7v12.5M565.1 321.7h12.5M571.3 315.4v12.5M565.1 323.3h12.5M571.3 317.1v12.5M565.1 325.0h12.5M571.3 318.8v12.5M565.1 326.7h12.5M571.3 320.5v12.5M565.1 328.4h12.5M571.3 322.2v12.5M565.1 330.1h12.5M571.3 323.9v12.5M565.1 331.8h12.5M571.3 325.6v12.5M565.1 333.5h12.5M571.3 327.3v12.5M565.1 335.2h12.5M571.3 328.9v12.5M565.1 336.9h12.5M571.3 330.6v12.5M565.1 338.6h12.5M571.3 332.3v12.5M565.1 340.3h12.5M571.3 334.0v12.5M565.1 343.5h12.5M571.3 337.2v12.5M565.1 345.0h12.5M571.3 338.8v12.5M565.1 346.6h12.5M571.3 340.4v12.5M565.1 348.2h12.5M571.3 342.0v12.5M565.1 349.8h12.5M571.3 343.6v12.5M565.1 351.4h12.5M571.3 345.2v12.5M565.1 353.0h12.5M571.3 346.8v12.5M565.1 354.6h12.5M571.3 348.4v12.5M565.1 356.2h12.5M571.3 350.0v12.5M565.1 357.8h12.5M571.3 351.5v12.5M565.1 361.6h12.5M571.3 355.3v12.5M565.1 371.1h12.5M571.3 364.9v12.5M565.1 378.0h12.5M571.3 371.8v12.5M565.1 389.2h12.5M571.3 382.9v12.5M565.1 393.0h12.5M571.3 386.8v12.5M565.1 401.2h12.5M571.3 395.0v12.5M565.1 409.4h12.5M571.3 403.2v12.5M565.1 420.9h12.5M571.3 414.7v12.5M565.1 451.1h12.5M571.3 444.8v12.5M582.8 193.6h12.5M589.1 187.3v12.5M582.8 197.0h12.5M589.1 190.8v12.5M582.8 197.1h12.5M589.1 190.9v12.5M582.8 206.4h12.5M589.1 200.2v12.5M582.8 211.9h12.5M589.1 205.6v12.5M582.8 216.7h12.5M589.1 210.5v12.5M582.8 218.1h12.5M589.1 211.9v12.5M582.8 219.5h12.5M589.1 213.3v12.5M582.8 220.9h12.5M589.1 214.7v12.5M582.8 222.3h12.5M589.1 216.1v12.5M582.8 229.9h12.5M589.1 223.6v12.5M582.8 231.1h12.5M589.1 224.8v12.5M582.8 234.9h12.5M589.1 228.6v12.5M582.8 239.2h12.5M589.1 232.9v12.5M582.8 240.4h12.5M589.1 234.1v12.5M582.8 244.2h12.5M589.1 237.9v12.5M582.8 249.6h12.5M589.1 243.3v12.5M582.8 251.3h12.5M589.1 245.0v12.5M582.8 253.0h12.5M589.1 246.7v12.5M582.8 256.7h12.5M589.1 250.5v12.5M582.8 258.3h12.5M589.1 252.1v12.5M582.8 259.9h12.5M589.1 253.6v12.5M582.8 261.5h12.5M589.1 255.2v12.5M582.8 263.1h12.5M589.1 256.8v12.5M582.8 264.7h12.5M589.1 258.4v12.5M582.8 266.2h12.5M589.1 260.0v12.5M582.8 267.8h12.5M589.1 261.6v12.5M582.8 269.4h12.5M589.1 263.2v12.5M582.8 273.7h12.5M589.1 267.4v12.5M582.8 275.0h12.5M589.1 268.7v12.5M582.8 276.3h12.5M589.1 270.1v12.5M582.8 277.6h12.5M589.1 271.4v12.5M582.8 278.9h12.5M589.1 272.7v12.5M582.8 281.0h12.5M589.1 274.8v12.5M582.8 282.7h12.5M589.1 276.5v12.5M582.8 284.4h12.5M589.1 278.1v12.5M582.8 286.1h12.5M589.1 279.8v12.5M582.8 287.7h12.5M589.1 281.5v12.5M582.8 289.4h12.5M589.1 283.2v12.5M582.8 291.1h12.5M589.1 284.8v12.5M582.8 292.8h12.5M589.1 286.5v12.5M582.8 294.4h12.5M589.1 288.2v12.5M582.8 296.1h12.5M589.1 289.9v12.5M582.8 297.8h12.5M589.1 291.5v12.5M582.8 299.5h12.5M589.1 293.2v12.5M582.8 301.1h12.5M589.1 294.9v12.5M582.8 302.8h12.5M589.1 296.5v12.5M582.8 304.5h12.5M589.1 298.2v12.5M582.8 306.1h12.5M589.1 299.9v12.5M582.8 307.8h12.5M589.1 301.6v12.5M582.8 309.5h12.5M589.1 303.2v12.5M582.8 311.2h12.5M589.1 304.9v12.5M582.8 312.8h12.5M589.1 306.6v12.5M582.8 314.5h12.5M589.1 308.3v12.5M582.8 316.2h12.5M589.1 309.9v12.5M582.8 318.8h12.5M589.1 312.6v12.5M582.8 320.1h12.5M589.1 313.9v12.5M582.8 321.4h12.5M589.1 315.2v12.5M582.8 322.8h12.5M589.1 316.5v12.5M582.8 325.9h12.5M589.1 319.7v12.5M582.8 327.5h12.5M589.1 321.2v12.5M582.8 329.1h12.5M589.1 322.8v12.5M582.8 330.6h12.5M589.1 324.4v12.5M582.8 332.2h12.5M589.1 325.9v12.5M582.8 333.7h12.5M589.1 327.5v12.5M582.8 335.3h12.5M589.1 329.0v12.5M582.8 336.9h12.5M589.1 330.6v12.5M582.8 338.4h12.5M589.1 332.2v12.5M582.8 340.0h12.5M589.1 333.7v12.5M582.8 341.5h12.5M589.1 335.3v12.5M582.8 343.1h12.5M589.1 336.8v12.5M582.8 344.7h12.5M589.1 338.4v12.5M582.8 347.8h12.5M589.1 341.6v12.5M582.8 349.4h12.5M589.1 343.1v12.5M582.8 350.9h12.5M589.1 344.7v12.5M582.8 352.5h12.5M589.1 346.2v12.5M582.8 354.1h12.5M589.1 347.8v12.5M582.8 355.6h12.5M589.1 349.4v12.5M582.8 359.9h12.5M589.1 353.7v12.5M582.8 363.2h12.5M589.1 357.0v12.5M582.8 365.0h12.5M589.1 358.8v12.5M582.8 365.7h12.5M589.1 359.4v12.5M582.8 376.0h12.5M589.1 369.7v12.5M582.8 377.7h12.5M589.1 371.4v12.5M582.8 379.4h12.5M589.1 373.1v12.5M582.8 387.9h12.5M589.1 381.6v12.5M582.8 396.2h12.5M589.1 390.0v12.5M582.8 397.1h12.5M589.1 390.9v12.5M582.8 398.0h12.5M589.1 391.7v12.5M582.8 504.9h12.5M589.1 498.7v12.5M600.6 200.9h12.5M606.8 194.7v12.5M600.6 203.7h12.5M606.8 197.4v12.5M600.6 219.5h12.5M606.8 213.3v12.5M600.6 225.6h12.5M606.8 219.3v12.5M600.6 229.9h12.5M606.8 223.6v12.5M600.6 231.3h12.5M606.8 225.1v12.5M600.6 232.7h12.5M606.8 226.5v12.5M600.6 240.3h12.5M606.8 234.0v12.5M600.6 243.1h12.5M606.8 236.9v12.5M600.6 246.9h12.5M606.8 240.6v12.5M600.6 247.7h12.5M606.8 241.5v12.5M600.6 248.6h12.5M606.8 242.4v12.5M600.6 254.0h12.5M606.8 247.7v12.5M600.6 254.6h12.5M606.8 248.4v12.5M600.6 258.4h12.5M606.8 252.1v12.5M600.6 260.0h12.5M606.8 253.8v12.5M600.6 261.7h12.5M606.8 255.4v12.5M600.6 263.4h12.5M606.8 257.1v12.5M600.6 265.0h12.5M606.8 258.8v12.5M600.6 269.3h12.5M606.8 263.1v12.5M600.6 270.9h12.5M606.8 264.7v12.5M600.6 272.5h12.5M606.8 266.3v12.5M600.6 274.1h12.5M606.8 267.9v12.5M600.6 275.7h12.5M606.8 269.5v12.5M600.6 277.3h12.5M606.8 271.1v12.5M600.6 278.9h12.5M606.8 272.7v12.5M600.6 281.0h12.5M606.8 274.8v12.5M600.6 282.7h12.5M606.8 276.5v12.5M600.6 284.4h12.5M606.8 278.1v12.5M600.6 286.1h12.5M606.8 279.8v12.5M600.6 287.7h12.5M606.8 281.5v12.5M600.6 289.4h12.5M606.8 283.2v12.5M600.6 291.1h12.5M606.8 284.8v12.5M600.6 292.8h12.5M606.8 286.5v12.5M600.6 294.4h12.5M606.8 288.2v12.5M600.6 296.1h12.5M606.8 289.9v12.5M600.6 297.8h12.5M606.8 291.5v12.5M600.6 299.5h12.5M606.8 293.2v12.5M600.6 301.1h12.5M606.8 294.9v12.5M600.6 302.8h12.5M606.8 296.6v12.5M600.6 304.5h12.5M606.8 298.2v12.5M600.6 306.2h12.5M606.8 299.9v12.5M600.6 307.8h12.5M606.8 301.6v12.5M600.6 309.5h12.5M606.8 303.2v12.5M600.6 311.2h12.5M606.8 304.9v12.5M600.6 312.8h12.5M606.8 306.6v12.5M600.6 314.5h12.5M606.8 308.3v12.5M600.6 316.2h12.5M606.8 309.9v12.5M600.6 317.9h12.5M606.8 311.6v12.5M600.6 319.5h12.5M606.8 313.3v12.5M600.6 321.2h12.5M606.8 315.0v12.5M600.6 322.9h12.5M606.8 316.6v12.5M600.6 324.6h12.5M606.8 318.3v12.5M600.6 326.2h12.5M606.8 320.0v12.5M600.6 327.9h12.5M606.8 321.7v12.5M600.6 329.6h12.5M606.8 323.3v12.5M600.6 331.3h12.5M606.8 325.0v12.5M600.6 332.9h12.5M606.8 326.7v12.5M600.6 334.6h12.5M606.8 328.4v12.5M600.6 336.3h12.5M606.8 330.0v12.5M600.6 338.0h12.5M606.8 331.7v12.5M600.6 339.6h12.5M606.8 333.4v12.5M600.6 341.3h12.5M606.8 335.1v12.5M600.6 343.0h12.5M606.8 336.7v12.5M600.6 344.7h12.5M606.8 338.4v12.5M600.6 349.5h12.5M606.8 343.2v12.5M600.6 350.7h12.5M606.8 344.4v12.5M600.6 377.6h12.5M606.8 371.4v12.5M600.6 378.5h12.5M606.8 372.3v12.5M600.6 379.4h12.5M606.8 373.1v12.5M600.6 384.8h12.5M606.8 378.6v12.5M600.6 401.2h12.5M606.8 395.0v12.5M600.6 408.3h12.5M606.8 402.1v12.5M600.6 413.8h12.5M606.8 407.5v12.5M600.6 415.0h12.5M606.8 408.7v12.5M600.6 429.6h12.5M606.8 423.4v12.5M600.6 430.8h12.5M606.8 424.6v12.5M618.3 167.1h12.5M624.5 160.8v12.5M618.3 196.0h12.5M624.5 189.8v12.5M618.3 202.6h12.5M624.5 196.3v12.5M618.3 214.0h12.5M624.5 207.8v12.5M618.3 214.9h12.5M624.5 208.6v12.5M618.3 215.8h12.5M624.5 209.5v12.5M618.3 222.8h12.5M624.5 216.6v12.5M618.3 231.9h12.5M624.5 225.7v12.5M618.3 239.7h12.5M624.5 233.5v12.5M618.3 242.5h12.5M624.5 236.3v12.5M618.3 245.3h12.5M624.5 239.1v12.5M618.3 251.8h12.5M624.5 245.5v12.5M618.3 253.4h12.5M624.5 247.1v12.5M618.3 255.0h12.5M624.5 248.7v12.5M618.3 256.6h12.5M624.5 250.3v12.5M618.3 258.2h12.5M624.5 251.9v12.5M618.3 259.8h12.5M624.5 253.5v12.5M618.3 261.4h12.5M624.5 255.2v12.5M618.3 263.0h12.5M624.5 256.8v12.5M618.3 264.6h12.5M624.5 258.4v12.5M618.3 266.2h12.5M624.5 260.0v12.5M618.3 267.8h12.5M624.5 261.6v12.5M618.3 269.4h12.5M624.5 263.2v12.5M618.3 272.6h12.5M624.5 266.3v12.5M618.3 274.3h12.5M624.5 268.0v12.5M618.3 276.0h12.5M624.5 269.7v12.5M618.3 279.1h12.5M624.5 272.8v12.5M618.3 279.1h12.5M624.5 272.8v12.5M618.3 281.0h12.5M624.5 274.8v12.5M618.3 282.7h12.5M624.5 276.5v12.5M618.3 284.4h12.5M624.5 278.2v12.5M618.3 286.1h12.5M624.5 279.9v12.5M618.3 287.8h12.5M624.5 281.6v12.5M618.3 289.5h12.5M624.5 283.3v12.5M618.3 291.2h12.5M624.5 284.9v12.5M618.3 292.9h12.5M624.5 286.6v12.5M618.3 294.6h12.5M624.5 288.3v12.5M618.3 296.3h12.5M624.5 290.0v12.5M618.3 298.0h12.5M624.5 291.7v12.5M618.3 299.7h12.5M624.5 293.4v12.5M618.3 301.4h12.5M624.5 295.1v12.5M618.3 303.0h12.5M624.5 296.8v12.5M618.3 304.7h12.5M624.5 298.5v12.5M618.3 306.4h12.5M624.5 300.2v12.5M618.3 308.1h12.5M624.5 301.9v12.5M618.3 309.8h12.5M624.5 303.6v12.5M618.3 311.5h12.5M624.5 305.3v12.5M618.3 313.2h12.5M624.5 306.9v12.5M618.3 314.9h12.5M624.5 308.6v12.5M618.3 316.6h12.5M624.5 310.3v12.5M618.3 318.3h12.5M624.5 312.0v12.5M618.3 320.0h12.5M624.5 313.7v12.5M618.3 321.7h12.5M624.5 315.4v12.5M618.3 324.8h12.5M624.5 318.6v12.5M618.3 325.7h12.5M624.5 319.5v12.5M618.3 326.6h12.5M624.5 320.3v12.5M618.3 329.8h12.5M624.5 323.5v12.5M618.3 330.6h12.5M624.5 324.4v12.5M618.3 331.5h12.5M624.5 325.3v12.5M618.3 336.9h12.5M624.5 330.6v12.5M618.3 338.1h12.5M624.5 331.8v12.5M618.3 342.4h12.5M624.5 336.1v12.5M618.3 343.5h12.5M624.5 337.3v12.5M618.3 344.7h12.5M624.5 338.4v12.5M618.3 348.4h12.5M624.5 342.1v12.5M618.3 349.3h12.5M624.5 343.0v12.5M618.3 350.1h12.5M624.5 343.9v12.5M618.3 355.5h12.5M624.5 349.2v12.5M618.3 355.6h12.5M624.5 349.4v12.5M618.3 362.1h12.5M624.5 355.8v12.5M618.3 362.9h12.5M624.5 356.7v12.5M618.3 364.8h12.5M624.5 358.6v12.5M618.3 364.8h12.5M624.5 358.6v12.5M618.3 368.9h12.5M624.5 362.7v12.5M618.3 377.6h12.5M624.5 371.4v12.5M618.3 378.8h12.5M624.5 372.6v12.5M618.3 387.2h12.5M624.5 381.0v12.5M618.3 401.8h12.5M624.5 395.5v12.5M618.3 405.8h12.5M624.5 399.6v12.5M636.0 197.6h12.5M642.3 191.4v12.5M636.0 203.6h12.5M642.3 197.4v12.5M636.0 204.5h12.5M642.3 198.2v12.5M636.0 205.4h12.5M642.3 199.1v12.5M636.0 210.2h12.5M642.3 203.9v12.5M636.0 210.8h12.5M642.3 204.6v12.5M636.0 222.3h12.5M642.3 216.0v12.5M636.0 228.8h12.5M642.3 222.6v12.5M636.0 239.2h12.5M642.3 232.9v12.5M636.0 241.4h12.5M642.3 235.2v12.5M636.0 243.6h12.5M642.3 237.4v12.5M636.0 245.9h12.5M642.3 239.6v12.5M636.0 250.2h12.5M642.3 243.9v12.5M636.0 255.7h12.5M642.3 249.4v12.5M636.0 265.0h12.5M642.3 258.7v12.5M636.0 269.4h12.5M642.3 263.1v12.5M636.0 273.7h12.5M642.3 267.4v12.5M636.0 274.6h12.5M642.3 268.3v12.5M636.0 275.4h12.5M642.3 269.2v12.5M636.0 286.0h12.5M642.3 279.8v12.5M636.0 293.7h12.5M642.3 287.4v12.5M636.0 296.4h12.5M642.3 290.2v12.5M636.0 308.4h12.5M642.3 302.2v12.5M636.0 310.1h12.5M642.3 303.9v12.5M636.0 311.8h12.5M642.3 305.6v12.5M636.0 316.1h12.5M642.3 309.9v12.5M636.0 319.4h12.5M642.3 313.1v12.5M636.0 321.0h12.5M642.3 314.7v12.5M636.0 322.6h12.5M642.3 316.3v12.5M636.0 324.1h12.5M642.3 317.9v12.5M636.0 325.7h12.5M642.3 319.5v12.5M636.0 327.3h12.5M642.3 321.1v12.5M636.0 328.9h12.5M642.3 322.7v12.5M636.0 330.5h12.5M642.3 324.3v12.5M636.0 332.1h12.5M642.3 325.9v12.5M636.0 333.7h12.5M642.3 327.5v12.5M636.0 338.0h12.5M642.3 331.7v12.5M636.0 338.1h12.5M642.3 331.8v12.5M636.0 343.0h12.5M642.3 336.7v12.5M636.0 348.4h12.5M642.3 342.2v12.5M636.0 351.7h12.5M642.3 345.5v12.5M636.0 357.7h12.5M642.3 351.4v12.5M636.0 358.8h12.5M642.3 352.6v12.5M636.0 360.0h12.5M642.3 353.7v12.5M636.0 365.0h12.5M642.3 358.8v12.5M636.0 366.2h12.5M642.3 360.0v12.5M636.0 387.5h12.5M642.3 381.3v12.5M636.0 404.0h12.5M642.3 397.7v12.5M636.0 408.9h12.5M642.3 402.6v12.5M636.0 414.4h12.5M642.3 408.1v12.5M636.0 430.6h12.5M642.3 424.3v12.5M653.8 228.6h12.5M660.0 222.4v12.5M653.8 242.2h12.5M660.0 236.0v12.5M653.8 255.7h12.5M660.0 249.4v12.5M653.8 265.5h12.5M660.0 259.3v12.5M653.8 271.6h12.5M660.0 265.3v12.5M653.8 274.8h12.5M660.0 268.6v12.5M653.8 277.6h12.5M660.0 271.3v12.5M653.8 284.9h12.5M660.0 278.7v12.5M653.8 288.8h12.5M660.0 282.5v12.5M653.8 292.0h12.5M660.0 285.8v12.5M653.8 298.1h12.5M660.0 291.8v12.5M653.8 303.5h12.5M660.0 297.3v12.5M653.8 317.8h12.5M660.0 311.5v12.5M653.8 322.6h12.5M660.0 316.4v12.5M653.8 324.2h12.5M660.0 318.0v12.5M653.8 325.8h12.5M660.0 319.6v12.5M653.8 327.4h12.5M660.0 321.1v12.5M653.8 329.0h12.5M660.0 322.7v12.5M653.8 330.5h12.5M660.0 324.3v12.5M653.8 332.1h12.5M660.0 325.9v12.5M653.8 333.7h12.5M660.0 327.5v12.5M653.8 337.5h12.5M660.0 331.2v12.5M653.8 341.3h12.5M660.0 335.1v12.5M653.8 345.1h12.5M660.0 338.8v12.5M653.8 346.3h12.5M660.0 340.0v12.5M653.8 355.6h12.5M660.0 349.3v12.5M653.8 368.9h12.5M660.0 362.7v12.5M653.8 443.4h12.5M660.0 437.1v12.5M671.5 234.5h12.5M677.8 228.3v12.5M671.5 239.8h12.5M677.8 233.5v12.5M671.5 256.0h12.5M677.8 249.8v12.5M671.5 261.7h12.5M677.8 255.4v12.5M671.5 307.9h12.5M677.8 301.7v12.5M671.5 317.8h12.5M677.8 311.5v12.5M671.5 349.5h12.5M677.8 343.3v12.5M671.5 358.8h12.5M677.8 352.6v12.5M671.5 364.0h12.5M677.8 357.8v12.5M671.5 393.6h12.5M677.8 387.3v12.5M689.2 261.7h12.5M695.5 255.4v12.5M689.2 300.3h12.5M695.5 294.0v12.5M689.2 320.5h12.5M695.5 314.3v12.5M689.2 330.9h12.5M695.5 324.7v12.5M689.2 361.0h12.5M695.5 354.8v12.5M689.2 372.2h12.5M695.5 366.0v12.5M689.2 403.1h12.5M695.5 396.8v12.5M707.0 240.9h12.5M713.2 234.6v12.5M707.0 283.8h12.5M713.2 277.6v12.5M707.0 318.3h12.5M713.2 312.1v12.5M707.0 327.6h12.5M713.2 321.4v12.5M707.0 349.0h12.5M713.2 342.7v12.5M707.0 375.5h12.5M713.2 369.2v12.5M707.0 396.8h12.5M713.2 390.6v12.5M707.0 409.4h12.5M713.2 403.2v12.5M724.7 303.0h12.5M731.0 296.7v12.5M724.7 315.0h12.5M731.0 308.8v12.5M724.7 339.7h12.5M731.0 333.4v12.5M742.4 280.3h12.5M748.7 274.1v12.5M742.4 332.6h12.5M748.7 326.3v12.5M742.4 339.1h12.5M748.7 332.9v12.5M760.2 225.0h12.5M766.4 218.8v12.5M760.2 256.0h12.5M766.4 249.8v12.5M760.2 303.5h12.5M766.4 297.3v12.5M760.2 339.7h12.5M766.4 333.4v12.5M760.2 369.5h12.5M766.4 363.2v12.5" stroke="#000" stroke-width="2.08" fill="none"/>
<line x1="62.86" y1="300.82" x2="813.70" y2="107.85" stroke="#0000ff" stroke-width="3.08" stroke-dasharray="11.41 4.93"/>
<line x1="62.86" y1="361.74" x2="813.70" y2="168.77" stroke="#0000ff" stroke-width="3.08" stroke-dasharray="11.41 4.93"/>
<line x1="62.86" y1="422.66" x2="813.70" y2="229.69" stroke="#0000ff" stroke-width="3.08" stroke-dasharray="11.41 4.93"/>
<line x1="62.86" y1="483.58" x2="813.70" y2="290.61" stroke="#0000ff" stroke-width="3.08" stroke-dasharray="11.41 4.93"/>
<line x1="62.86" y1="544.50" x2="813.70" y2="351.53" stroke="#0000ff" stroke-width="3.08" stroke-dasharray="11.41 4.93"/>
<line x1="62.86" y1="605.42" x2="813.70" y2="412.45" stroke="#0000ff" stroke-width="3.08" stroke-dasharray="11.41 4.93"/>
<path d="M92.5 507.8L86.2 520.2L98.8 520.2ZM110.2 372.2L104.0 384.8L116.5 384.8ZM128.0 490.8L121.7 503.2L134.2 503.2ZM181.2 431.8L174.9 444.2L187.4 444.2ZM198.9 440.9L192.7 453.4L205.2 453.4ZM216.6 461.1L210.4 473.6L222.9 473.6ZM234.4 470.6L228.1 483.1L240.6 483.1ZM252.1 456.9L245.9 469.4L258.4 469.4ZM269.9 414.4L263.6 426.9L276.1 426.9ZM287.6 434.6L281.3 447.1L293.8 447.1ZM305.3 418.8L299.1 431.2L311.6 431.2ZM323.1 424.1L316.8 436.6L329.3 436.6ZM340.8 402.8L334.5 415.2L347.0 415.2ZM358.5 395.4L352.3 407.9L364.8 407.9ZM376.3 387.9L370.0 400.4L382.5 400.4ZM394.0 397.6L387.7 410.1L400.2 410.1ZM411.7 384.8L405.5 397.2L418.0 397.2ZM429.5 374.1L423.2 386.6L435.7 386.6ZM447.2 360.4L440.9 372.9L453.4 372.9ZM464.9 351.9L458.7 364.4L471.2 364.4ZM482.7 349.8L476.4 362.2L488.9 362.2ZM500.4 327.6L494.2 340.1L506.7 340.1ZM518.1 320.1L511.9 332.6L524.4 332.6ZM535.9 306.4L529.6 318.9L542.1 318.9ZM553.6 296.8L547.4 309.2L559.9 309.2ZM571.3 294.6L565.1 307.1L577.6 307.1ZM589.1 290.4L582.8 302.9L595.3 302.9ZM606.8 289.4L600.6 301.9L613.1 301.9ZM624.5 289.4L618.3 301.9L630.8 301.9ZM642.3 293.6L636.0 306.1L648.5 306.1ZM660.0 304.1L653.8 316.6L666.3 316.6ZM677.8 293.6L671.5 306.1L684.0 306.1ZM695.5 324.4L689.2 336.9L701.7 336.9ZM713.2 322.2L707.0 334.8L719.5 334.8ZM731.0 312.6L724.7 325.1L737.2 325.1ZM748.7 309.4L742.4 321.9L754.9 321.9ZM766.4 283.6L760.2 296.1L772.7 296.1Z" stroke="#ff0000" stroke-width="2.08" fill="#ff0000" stroke-linejoin="miter"/>
<line x1="92.5" y1="478.8" x2="766.4" y2="275.4" stroke="#ff0000" stroke-width="3.125" stroke-linecap="square"/>
</g>
<rect x="82.0" y="40.6" width="691.7" height="631.1999999999999" fill="none" stroke="#000" stroke-width="1.75"/>
<path d="M92.50 671.8v8.2M163.44 671.8v8.2M234.38 671.8v8.2M305.32 671.8v8.2M376.26 671.8v8.2M447.20 671.8v8.2M518.14 671.8v8.2M589.08 671.8v8.2M660.02 671.8v8.2M730.96 671.8v8.2M82.0 597.80h-8.2M82.0 445.50h-8.2M82.0 293.20h-8.2M82.0 140.90h-8.2" stroke="#000" stroke-width="1.75" fill="none"/>
<text x="92.50" y="715.4" text-anchor="middle">10</text>
<text x="163.44" y="715.4" text-anchor="middle">12</text>
<text x="234.38" y="715.4" text-anchor="middle">14</text>
<text x="305.32" y="715.4" text-anchor="middle">16</text>
<text x="376.26" y="715.4" text-anchor="middle">18</text>
<text x="447.20" y="715.4" text-anchor="middle">20</text>
<text x="518.14" y="715.4" text-anchor="middle">22</text>
<text x="589.08" y="715.4" text-anchor="middle">24</text>
<text x="660.02" y="715.4" text-anchor="middle">26</text>
<text x="730.96" y="715.4" text-anchor="middle">28</text>
<text x="67.40" y="611.70" text-anchor="end">3</text>
<text x="67.40" y="459.40" text-anchor="end">4</text>
<text x="67.40" y="307.10" text-anchor="end">5</text>
<text x="67.40" y="154.80" text-anchor="end">6</text>
<text x="427.85" y="27.5" text-anchor="middle">(a)</text>
<text x="427.85" y="759.5" text-anchor="middle" style="font-size:37.1px">temperature (℃)</text>
<text transform="translate(27.8 357.3) rotate(-90)" text-anchor="middle" style="font-size:37.15px">precipitation (ln(mm))</text>
<defs><clipPath id="clip2"><rect x="958.1" y="40.6" width="691.8000000000001" height="631.1999999999999"/></clipPath></defs>
<g clip-path="url(#clip2)">
<path d="M960.5 435.1h12.5M966.8 428.9v12.5M960.5 446.2h12.5M966.8 439.9v12.5M960.5 475.8h12.5M966.8 469.6v12.5M960.5 505.9h12.5M966.8 499.7v12.5M975.3 499.2h12.5M981.5 492.9v12.5M990.0 447.6h12.5M996.3 441.4v12.5M990.0 490.0h12.5M996.3 483.8v12.5M990.0 499.2h12.5M996.3 492.9v12.5M1004.7 598.0h12.5M1011.0 591.7v12.5M1019.5 493.9h12.5M1025.7 487.6v12.5M1034.2 388.9h12.5M1040.5 382.7v12.5M1034.2 440.9h12.5M1040.5 434.6v12.5M1048.9 266.8h12.5M1055.2 260.5v12.5M1063.7 389.2h12.5M1069.9 382.9v12.5M1063.7 480.4h12.5M1069.9 474.1v12.5M1063.7 493.2h12.5M1069.9 486.9v12.5M1078.4 427.0h12.5M1084.6 420.8v12.5M1078.4 465.1h12.5M1084.6 458.8v12.5M1078.4 508.2h12.5M1084.6 501.9v12.5M1078.4 542.9h12.5M1084.6 536.6v12.5M1093.1 455.2h12.5M1099.4 449.0v12.5M1093.1 466.4h12.5M1099.4 460.1v12.5M1093.1 484.1h12.5M1099.4 477.9v12.5M1093.1 492.9h12.5M1099.4 486.6v12.5M1107.8 363.8h12.5M1114.1 357.5v12.5M1107.8 480.4h12.5M1114.1 474.1v12.5M1107.8 496.8h12.5M1114.1 490.6v12.5M1107.8 523.0h12.5M1114.1 516.7v12.5M1122.6 439.0h12.5M1128.8 432.7v12.5M1122.6 464.1h12.5M1128.8 457.9v12.5M1122.6 464.8h12.5M1128.8 458.5v12.5M1122.6 498.1h12.5M1128.8 491.8v12.5M1122.6 498.7h12.5M1128.8 492.5v12.5M1122.6 522.2h12.5M1128.8 516.0v12.5M1137.3 412.2h12.5M1143.6 405.9v12.5M1137.3 418.3h12.5M1143.6 412.0v12.5M1137.3 430.6h12.5M1143.6 424.3v12.5M1137.3 436.6h12.5M1143.6 430.3v12.5M1137.3 439.5h12.5M1143.6 433.3v12.5M1137.3 450.5h12.5M1143.6 444.2v12.5M1137.3 477.9h12.5M1143.6 471.6v12.5M1137.3 508.9h12.5M1143.6 502.6v12.5M1137.3 589.5h12.5M1143.6 583.2v12.5M1152.0 414.7h12.5M1158.3 408.4v12.5M1152.0 436.6h12.5M1158.3 430.3v12.5M1152.0 466.9h12.5M1158.3 460.7v12.5M1166.8 282.7h12.5M1173.0 276.4v12.5M1166.8 374.9h12.5M1173.0 368.7v12.5M1166.8 380.4h12.5M1173.0 374.2v12.5M1166.8 387.8h12.5M1173.0 381.6v12.5M1166.8 400.1h12.5M1173.0 393.9v12.5M1166.8 425.1h12.5M1173.0 418.8v12.5M1166.8 428.3h12.5M1173.0 422.1v12.5M1166.8 429.7h12.5M1173.0 423.5v12.5M1166.8 431.2h12.5M1173.0 424.9v12.5M1166.8 436.6h12.5M1173.0 430.3v12.5M1166.8 443.3h12.5M1173.0 437.1v12.5M1166.8 444.0h12.5M1173.0 437.7v12.5M1166.8 454.3h12.5M1173.0 448.1v12.5M1166.8 462.5h12.5M1173.0 456.2v12.5M1166.8 463.1h12.5M1173.0 456.9v12.5M1166.8 469.1h12.5M1173.0 462.9v12.5M1166.8 515.4h12.5M1173.0 509.2v12.5M1181.5 324.0h12.5M1187.8 317.8v12.5M1181.5 335.7h12.5M1187.8 329.4v12.5M1181.5 381.1h12.5M1187.8 374.8v12.5M1181.5 386.7h12.5M1187.8 380.4v12.5M1181.5 387.6h12.5M1187.8 381.3v12.5M1181.5 388.5h12.5M1187.8 382.2v12.5M1181.5 394.6h12.5M1187.8 388.4v12.5M1181.5 405.4h12.5M1187.8 399.1v12.5M1181.5 427.3h12.5M1187.8 421.0v12.5M1181.5 431.6h12.5M1187.8 425.4v12.5M1181.5 436.6h12.5M1187.8 430.3v12.5M1181.5 442.8h12.5M1187.8 436.5v12.5M1181.5 444.3h12.5M1187.8 438.0v12.5M1181.5 445.8h12.5M1187.8 439.5v12.5M1181.5 447.3h12.5M1187.8 441.0v12.5M1181.5 454.9h12.5M1187.8 448.6v12.5M1181.5 468.0h12.5M1187.8 461.8v12.5M1181.5 477.5h12.5M1187.8 471.3v12.5M1181.5 499.0h12.5M1187.8 492.8v12.5M1196.2 321.9h12.5M1202.5 315.6v12.5M1196.2 334.6h12.5M1202.5 328.4v12.5M1196.2 375.8h12.5M1202.5 369.6v12.5M1196.2 386.2h12.5M1202.5 380.0v12.5M1196.2 396.8h12.5M1202.5 390.6v12.5M1196.2 405.9h12.5M1202.5 399.6v12.5M1196.2 406.5h12.5M1202.5 400.3v12.5M1196.2 436.6h12.5M1202.5 430.3v12.5M1196.2 443.9h12.5M1202.5 437.6v12.5M1196.2 445.6h12.5M1202.5 439.3v12.5M1196.2 447.3h12.5M1202.5 441.0v12.5M1196.2 454.9h12.5M1202.5 448.6v12.5M1196.2 460.1h12.5M1202.5 453.8v12.5M1196.2 460.7h12.5M1202.5 454.5v12.5M1196.2 467.7h12.5M1202.5 461.4v12.5M1196.2 471.0h12.5M1202.5 464.7v12.5M1196.2 477.3h12.5M1202.5 471.1v12.5M1196.2 499.8h12.5M1202.5 493.5v12.5M1196.2 508.5h12.5M1202.5 502.3v12.5M1196.2 537.1h12.5M1202.5 530.9v12.5M1211.0 299.6h12.5M1217.2 293.4v12.5M1211.0 348.4h12.5M1217.2 342.1v12.5M1211.0 355.0h12.5M1217.2 348.8v12.5M1211.0 370.9h12.5M1217.2 364.6v12.5M1211.0 375.3h12.5M1217.2 369.0v12.5M1211.0 381.3h12.5M1217.2 375.0v12.5M1211.0 387.3h12.5M1217.2 381.1v12.5M1211.0 391.6h12.5M1217.2 385.4v12.5M1211.0 393.9h12.5M1217.2 387.7v12.5M1211.0 405.9h12.5M1217.2 399.7v12.5M1211.0 417.4h12.5M1217.2 411.2v12.5M1211.0 449.4h12.5M1217.2 443.2v12.5M1211.0 453.2h12.5M1217.2 446.9v12.5M1211.0 454.6h12.5M1217.2 448.4v12.5M1211.0 456.0h12.5M1217.2 449.8v12.5M1211.0 462.9h12.5M1217.2 456.6v12.5M1211.0 468.0h12.5M1217.2 461.8v12.5M1211.0 479.0h12.5M1217.2 472.7v12.5M1211.0 490.2h12.5M1217.2 484.0v12.5M1211.0 554.5h12.5M1217.2 548.3v12.5M1225.7 265.5h12.5M1231.9 259.3v12.5M1225.7 300.3h12.5M1231.9 294.0v12.5M1225.7 346.2h12.5M1231.9 340.0v12.5M1225.7 359.4h12.5M1231.9 353.1v12.5M1225.7 367.2h12.5M1231.9 361.0v12.5M1225.7 368.7h12.5M1231.9 362.5v12.5M1225.7 370.2h12.5M1231.9 364.0v12.5M1225.7 371.7h12.5M1231.9 365.5v12.5M1225.7 378.2h12.5M1231.9 372.0v12.5M1225.7 382.6h12.5M1231.9 376.3v12.5M1225.7 384.1h12.5M1231.9 377.8v12.5M1225.7 385.6h12.5M1231.9 379.3v12.5M1225.7 387.0h12.5M1231.9 380.8v12.5M1225.7 391.4h12.5M1231.9 385.1v12.5M1225.7 397.9h12.5M1231.9 391.6v12.5M1225.7 400.7h12.5M1231.9 394.4v12.5M1225.7 403.4h12.5M1231.9 397.2v12.5M1225.7 406.2h12.5M1231.9 399.9v12.5M1225.7 408.9h12.5M1231.9 402.7v12.5M1225.7 413.2h12.5M1231.9 407.0v12.5M1225.7 414.4h12.5M1231.9 408.2v12.5M1225.7 418.7h12.5M1231.9 412.4v12.5M1225.7 419.9h12.5M1231.9 413.6v12.5M1225.7 424.2h12.5M1231.9 417.9v12.5M1225.7 426.4h12.5M1231.9 420.2v12.5M1225.7 428.7h12.5M1231.9 422.4v12.5M1225.7 431.8h12.5M1231.9 425.6v12.5M1225.7 433.0h12.5M1231.9 426.7v12.5M1225.7 434.1h12.5M1231.9 427.9v12.5M1225.7 438.4h12.5M1231.9 432.2v12.5M1225.7 439.6h12.5M1231.9 433.3v12.5M1225.7 440.7h12.5M1231.9 434.4v12.5M1225.7 443.4h12.5M1231.9 437.1v12.5M1225.7 446.1h12.5M1231.9 439.9v12.5M1225.7 450.2h12.5M1231.9 443.9v12.5M1225.7 453.5h12.5M1231.9 447.2v12.5M1225.7 467.1h12.5M1231.9 460.9v12.5M1225.7 469.4h12.5M1231.9 463.2v12.5M1225.7 474.3h12.5M1231.9 468.0v12.5M1225.7 526.0h12.5M1231.9 519.7v12.5M1240.4 261.5h12.5M1246.7 255.2v12.5M1240.4 329.8h12.5M1246.7 323.6v12.5M1240.4 336.9h12.5M1246.7 330.7v12.5M1240.4 343.5h12.5M1246.7 337.3v12.5M1240.4 358.2h12.5M1246.7 352.0v12.5M1240.4 358.9h12.5M1246.7 352.6v12.5M1240.4 365.0h12.5M1246.7 358.8v12.5M1240.4 366.2h12.5M1246.7 360.0v12.5M1240.4 370.5h12.5M1246.7 364.3v12.5M1240.4 371.7h12.5M1246.7 365.4v12.5M1240.4 372.8h12.5M1246.7 366.6v12.5M1240.4 375.5h12.5M1246.7 369.2v12.5M1240.4 379.3h12.5M1246.7 373.0v12.5M1240.4 379.4h12.5M1246.7 373.1v12.5M1240.4 382.6h12.5M1246.7 376.3v12.5M1240.4 384.9h12.5M1246.7 378.6v12.5M1240.4 389.2h12.5M1246.7 382.9v12.5M1240.4 396.3h12.5M1246.7 390.1v12.5M1240.4 401.2h12.5M1246.7 394.9v12.5M1240.4 403.8h12.5M1246.7 397.5v12.5M1240.4 406.4h12.5M1246.7 400.1v12.5M1240.4 408.9h12.5M1246.7 402.7v12.5M1240.4 415.5h12.5M1246.7 409.2v12.5M1240.4 422.0h12.5M1246.7 415.7v12.5M1240.4 422.6h12.5M1246.7 416.4v12.5M1240.4 426.4h12.5M1246.7 420.1v12.5M1240.4 427.5h12.5M1246.7 421.3v12.5M1240.4 428.7h12.5M1246.7 422.4v12.5M1240.4 432.9h12.5M1246.7 426.7v12.5M1240.4 434.1h12.5M1246.7 427.8v12.5M1240.4 435.2h12.5M1246.7 429.0v12.5M1240.4 438.5h12.5M1246.7 432.2v12.5M1240.4 442.3h12.5M1246.7 436.0v12.5M1240.4 449.1h12.5M1246.7 442.8v12.5M1240.4 455.7h12.5M1246.7 449.4v12.5M1240.4 465.0h12.5M1246.7 458.7v12.5M1240.4 476.7h12.5M1246.7 470.4v12.5M1240.4 489.3h12.5M1246.7 483.1v12.5M1240.4 490.5h12.5M1246.7 484.3v12.5M1240.4 500.0h12.5M1246.7 493.8v12.5M1255.2 287.9h12.5M1261.4 281.6v12.5M1255.2 304.6h12.5M1261.4 298.4v12.5M1255.2 323.8h12.5M1261.4 317.5v12.5M1255.2 333.7h12.5M1261.4 327.4v12.5M1255.2 344.5h12.5M1261.4 338.3v12.5M1255.2 346.0h12.5M1261.4 339.7v12.5M1255.2 347.4h12.5M1261.4 341.1v12.5M1255.2 361.6h12.5M1261.4 355.3v12.5M1255.2 370.0h12.5M1261.4 363.8v12.5M1255.2 374.4h12.5M1261.4 368.2v12.5M1255.2 380.4h12.5M1261.4 374.1v12.5M1255.2 381.5h12.5M1261.4 375.3v12.5M1255.2 382.7h12.5M1261.4 376.4v12.5M1255.2 386.9h12.5M1261.4 380.7v12.5M1255.2 389.7h12.5M1261.4 383.5v12.5M1255.2 392.5h12.5M1261.4 386.2v12.5M1255.2 395.2h12.5M1261.4 389.0v12.5M1255.2 398.0h12.5M1261.4 391.7v12.5M1255.2 401.2h12.5M1261.4 394.9v12.5M1255.2 402.9h12.5M1261.4 396.6v12.5M1255.2 404.6h12.5M1261.4 398.3v12.5M1255.2 408.9h12.5M1261.4 402.6v12.5M1255.2 412.1h12.5M1261.4 405.9v12.5M1255.2 413.5h12.5M1261.4 407.3v12.5M1255.2 414.9h12.5M1261.4 408.7v12.5M1255.2 416.3h12.5M1261.4 410.1v12.5M1255.2 417.7h12.5M1261.4 411.5v12.5M1255.2 420.9h12.5M1261.4 414.6v12.5M1255.2 422.6h12.5M1261.4 416.3v12.5M1255.2 424.2h12.5M1261.4 418.0v12.5M1255.2 425.9h12.5M1261.4 419.6v12.5M1255.2 427.6h12.5M1261.4 421.3v12.5M1255.2 430.7h12.5M1261.4 424.5v12.5M1255.2 432.4h12.5M1261.4 426.2v12.5M1255.2 434.1h12.5M1261.4 427.8v12.5M1255.2 435.7h12.5M1261.4 429.5v12.5M1255.2 437.4h12.5M1261.4 431.2v12.5M1255.2 442.8h12.5M1261.4 436.6v12.5M1255.2 447.2h12.5M1261.4 441.0v12.5M1255.2 454.5h12.5M1261.4 448.3v12.5M1255.2 455.7h12.5M1261.4 449.5v12.5M1269.9 300.6h12.5M1276.1 294.3v12.5M1269.9 309.0h12.5M1276.1 302.7v12.5M1269.9 309.6h12.5M1276.1 303.4v12.5M1269.9 315.0h12.5M1276.1 308.8v12.5M1269.9 322.1h12.5M1276.1 315.9v12.5M1269.9 323.8h12.5M1276.1 317.5v12.5M1269.9 325.5h12.5M1276.1 319.2v12.5M1269.9 331.5h12.5M1276.1 325.2v12.5M1269.9 338.0h12.5M1276.1 331.7v12.5M1269.9 338.6h12.5M1276.1 332.4v12.5M1269.9 342.4h12.5M1276.1 336.2v12.5M1269.9 350.1h12.5M1276.1 343.8v12.5M1269.9 356.6h12.5M1276.1 350.3v12.5M1269.9 358.7h12.5M1276.1 352.5v12.5M1269.9 360.8h12.5M1276.1 354.6v12.5M1269.9 362.9h12.5M1276.1 356.7v12.5M1269.9 364.5h12.5M1276.1 358.3v12.5M1269.9 364.5h12.5M1276.1 358.3v12.5M1269.9 369.4h12.5M1276.1 363.2v12.5M1269.9 370.6h12.5M1276.1 364.3v12.5M1269.9 371.7h12.5M1276.1 365.5v12.5M1269.9 376.0h12.5M1276.1 369.7v12.5M1269.9 378.8h12.5M1276.1 372.5v12.5M1269.9 381.5h12.5M1276.1 375.3v12.5M1269.9 384.3h12.5M1276.1 378.0v12.5M1269.9 387.0h12.5M1276.1 380.8v12.5M1269.9 390.3h12.5M1276.1 384.0v12.5M1269.9 393.5h12.5M1276.1 387.3v12.5M1269.9 394.7h12.5M1276.1 388.4v12.5M1269.9 395.8h12.5M1276.1 389.6v12.5M1269.9 400.1h12.5M1276.1 393.8v12.5M1269.9 401.8h12.5M1276.1 395.5v12.5M1269.9 403.5h12.5M1276.1 397.2v12.5M1269.9 407.2h12.5M1276.1 400.9v12.5M1269.9 408.9h12.5M1276.1 402.7v12.5M1269.9 413.2h12.5M1276.1 407.0v12.5M1269.9 414.8h12.5M1276.1 408.5v12.5M1269.9 416.4h12.5M1276.1 410.1v12.5M1269.9 418.0h12.5M1276.1 411.7v12.5M1269.9 419.5h12.5M1276.1 413.3v12.5M1269.9 421.1h12.5M1276.1 414.9v12.5M1269.9 422.7h12.5M1276.1 416.4v12.5M1269.9 424.3h12.5M1276.1 418.0v12.5M1269.9 434.1h12.5M1276.1 427.8v12.5M1269.9 439.6h12.5M1276.1 433.3v12.5M1269.9 448.8h12.5M1276.1 442.6v12.5M1269.9 448.8h12.5M1276.1 442.6v12.5M1269.9 453.4h12.5M1276.1 447.2v12.5M1269.9 454.6h12.5M1276.1 448.4v12.5M1269.9 475.9h12.5M1276.1 469.7v12.5M1269.9 481.9h12.5M1276.1 475.7v12.5M1269.9 487.4h12.5M1276.1 481.2v12.5M1284.6 302.4h12.5M1290.9 296.2v12.5M1284.6 321.6h12.5M1290.9 315.3v12.5M1284.6 322.8h12.5M1290.9 316.5v12.5M1284.6 327.1h12.5M1290.9 320.8v12.5M1284.6 330.9h12.5M1290.9 324.6v12.5M1284.6 332.3h12.5M1290.9 326.0v12.5M1284.6 333.7h12.5M1290.9 327.5v12.5M1284.6 339.1h12.5M1290.9 332.9v12.5M1284.6 341.8h12.5M1290.9 335.6v12.5M1284.6 342.7h12.5M1290.9 336.4v12.5M1284.6 343.6h12.5M1290.9 337.3v12.5M1284.6 352.2h12.5M1290.9 346.0v12.5M1284.6 353.1h12.5M1290.9 346.8v12.5M1284.6 354.0h12.5M1290.9 347.7v12.5M1284.6 360.4h12.5M1290.9 354.2v12.5M1284.6 361.7h12.5M1290.9 355.4v12.5M1284.6 362.9h12.5M1290.9 356.7v12.5M1284.6 365.0h12.5M1290.9 358.8v12.5M1284.6 366.5h12.5M1290.9 360.3v12.5M1284.6 368.0h12.5M1290.9 361.8v12.5M1284.6 369.5h12.5M1290.9 363.3v12.5M1284.6 377.1h12.5M1290.9 370.8v12.5M1284.6 379.6h12.5M1290.9 373.4v12.5M1284.6 382.2h12.5M1290.9 375.9v12.5M1284.6 384.7h12.5M1290.9 378.5v12.5M1284.6 387.2h12.5M1290.9 381.0v12.5M1284.6 389.8h12.5M1290.9 383.5v12.5M1284.6 392.4h12.5M1290.9 386.2v12.5M1284.6 393.6h12.5M1290.9 387.3v12.5M1284.6 394.7h12.5M1290.9 388.5v12.5M1284.6 399.0h12.5M1290.9 392.7v12.5M1284.6 400.5h12.5M1290.9 394.3v12.5M1284.6 402.1h12.5M1290.9 395.8v12.5M1284.6 403.6h12.5M1290.9 397.4v12.5M1284.6 405.2h12.5M1290.9 398.9v12.5M1284.6 406.7h12.5M1290.9 400.5v12.5M1284.6 408.2h12.5M1290.9 402.0v12.5M1284.6 409.8h12.5M1290.9 403.5v12.5M1284.6 411.3h12.5M1290.9 405.1v12.5M1284.6 412.9h12.5M1290.9 406.6v12.5M1284.6 414.4h12.5M1290.9 408.2v12.5M1284.6 417.7h12.5M1290.9 411.4v12.5M1284.6 424.8h12.5M1290.9 418.5v12.5M1284.6 429.7h12.5M1290.9 423.4v12.5M1284.6 433.5h12.5M1290.9 427.3v12.5M1284.6 440.6h12.5M1290.9 434.4v12.5M1284.6 446.1h12.5M1290.9 439.9v12.5M1284.6 451.8h12.5M1290.9 445.5v12.5M1284.6 453.0h12.5M1290.9 446.7v12.5M1284.6 458.7h12.5M1290.9 452.5v12.5M1284.6 480.0h12.5M1290.9 473.7v12.5M1299.3 291.4h12.5M1305.6 285.2v12.5M1299.3 293.7h12.5M1305.6 287.5v12.5M1299.3 300.7h12.5M1305.6 294.5v12.5M1299.3 302.0h12.5M1305.6 295.7v12.5M1299.3 306.8h12.5M1305.6 300.6v12.5M1299.3 311.2h12.5M1305.6 304.9v12.5M1299.3 313.2h12.5M1305.6 306.9v12.5M1299.3 315.2h12.5M1305.6 309.0v12.5M1299.3 317.3h12.5M1305.6 311.0v12.5M1299.3 338.0h12.5M1305.6 331.7v12.5M1299.3 338.6h12.5M1305.6 332.4v12.5M1299.3 341.3h12.5M1305.6 335.0v12.5M1299.3 342.8h12.5M1305.6 336.6v12.5M1299.3 344.4h12.5M1305.6 338.1v12.5M1299.3 345.9h12.5M1305.6 339.7v12.5M1299.3 347.5h12.5M1305.6 341.2v12.5M1299.3 349.0h12.5M1305.6 342.8v12.5M1299.3 352.2h12.5M1305.6 346.0v12.5M1299.3 353.9h12.5M1305.6 347.7v12.5M1299.3 355.6h12.5M1305.6 349.4v12.5M1299.3 361.5h12.5M1305.6 355.3v12.5M1299.3 362.9h12.5M1305.6 356.7v12.5M1299.3 365.0h12.5M1305.6 358.8v12.5M1299.3 366.5h12.5M1305.6 360.3v12.5M1299.3 368.0h12.5M1305.6 361.7v12.5M1299.3 369.5h12.5M1305.6 363.2v12.5M1299.3 371.0h12.5M1305.6 364.7v12.5M1299.3 372.4h12.5M1305.6 366.2v12.5M1299.3 373.9h12.5M1305.6 367.7v12.5M1299.3 377.1h12.5M1305.6 370.8v12.5M1299.3 378.7h12.5M1305.6 372.4v12.5M1299.3 380.3h12.5M1305.6 374.0v12.5M1299.3 381.9h12.5M1305.6 375.6v12.5M1299.3 383.5h12.5M1305.6 377.2v12.5M1299.3 385.1h12.5M1305.6 378.8v12.5M1299.3 386.7h12.5M1305.6 380.4v12.5M1299.3 388.3h12.5M1305.6 382.1v12.5M1299.3 389.9h12.5M1305.6 383.7v12.5M1299.3 391.5h12.5M1305.6 385.3v12.5M1299.3 393.1h12.5M1305.6 386.9v12.5M1299.3 394.7h12.5M1305.6 388.5v12.5M1299.3 397.9h12.5M1305.6 391.6v12.5M1299.3 399.6h12.5M1305.6 393.3v12.5M1299.3 401.3h12.5M1305.6 395.0v12.5M1299.3 410.0h12.5M1305.6 403.7v12.5M1299.3 418.7h12.5M1305.6 412.4v12.5M1299.3 419.9h12.5M1305.6 413.6v12.5M1299.3 427.5h12.5M1305.6 421.3v12.5M1299.3 435.1h12.5M1305.6 428.9v12.5M1299.3 436.3h12.5M1305.6 430.1v12.5M1299.3 445.6h12.5M1305.6 439.3v12.5M1299.3 448.8h12.5M1305.6 442.6v12.5M1299.3 448.8h12.5M1305.6 442.6v12.5M1299.3 451.3h12.5M1305.6 445.0v12.5M1299.3 465.0h12.5M1305.6 458.7v12.5M1299.3 476.7h12.5M1305.6 470.4v12.5M1299.3 517.5h12.5M1305.6 511.3v12.5M1299.3 526.0h12.5M1305.6 519.7v12.5M1314.1 280.0h12.5M1320.3 273.7v12.5M1314.1 281.0h12.5M1320.3 274.8v12.5M1314.1 282.2h12.5M1320.3 276.0v12.5M1314.1 292.0h12.5M1320.3 285.8v12.5M1314.1 295.9h12.5M1320.3 289.6v12.5M1314.1 305.2h12.5M1320.3 298.9v12.5M1314.1 309.6h12.5M1320.3 303.3v12.5M1314.1 313.3h12.5M1320.3 307.1v12.5M1314.1 314.8h12.5M1320.3 308.5v12.5M1314.1 316.2h12.5M1320.3 310.0v12.5M1314.1 317.7h12.5M1320.3 311.4v12.5M1314.1 319.1h12.5M1320.3 312.9v12.5M1314.1 320.6h12.5M1320.3 314.3v12.5M1314.1 324.8h12.5M1320.3 318.6v12.5M1314.1 327.7h12.5M1320.3 321.4v12.5M1314.1 331.5h12.5M1320.3 325.2v12.5M1314.1 336.9h12.5M1320.3 330.6v12.5M1314.1 338.6h12.5M1320.3 332.3v12.5M1314.1 340.3h12.5M1320.3 334.0v12.5M1314.1 346.2h12.5M1320.3 339.9v12.5M1314.1 347.1h12.5M1320.3 340.8v12.5M1314.1 347.9h12.5M1320.3 341.7v12.5M1314.1 353.3h12.5M1320.3 347.1v12.5M1314.1 354.5h12.5M1320.3 348.2v12.5M1314.1 355.6h12.5M1320.3 349.4v12.5M1314.1 361.6h12.5M1320.3 355.3v12.5M1314.1 365.0h12.5M1320.3 358.8v12.5M1314.1 366.5h12.5M1320.3 360.3v12.5M1314.1 368.0h12.5M1320.3 361.7v12.5M1314.1 369.5h12.5M1320.3 363.2v12.5M1314.1 371.0h12.5M1320.3 364.7v12.5M1314.1 372.4h12.5M1320.3 366.2v12.5M1314.1 373.9h12.5M1320.3 367.7v12.5M1314.1 376.5h12.5M1320.3 370.3v12.5M1314.1 377.9h12.5M1320.3 371.7v12.5M1314.1 379.3h12.5M1320.3 373.1v12.5M1314.1 380.7h12.5M1320.3 374.5v12.5M1314.1 382.1h12.5M1320.3 375.9v12.5M1314.1 384.7h12.5M1320.3 378.5v12.5M1314.1 386.1h12.5M1320.3 379.9v12.5M1314.1 387.5h12.5M1320.3 381.3v12.5M1314.1 388.9h12.5M1320.3 382.7v12.5M1314.1 390.3h12.5M1320.3 384.1v12.5M1314.1 394.1h12.5M1320.3 387.9v12.5M1314.1 399.0h12.5M1320.3 392.7v12.5M1314.1 400.5h12.5M1320.3 394.2v12.5M1314.1 401.9h12.5M1320.3 395.7v12.5M1314.1 403.4h12.5M1320.3 397.2v12.5M1314.1 404.9h12.5M1320.3 398.6v12.5M1314.1 406.4h12.5M1320.3 400.1v12.5M1314.1 407.9h12.5M1320.3 401.6v12.5M1314.1 412.2h12.5M1320.3 405.9v12.5M1314.1 414.9h12.5M1320.3 408.6v12.5M1314.1 417.7h12.5M1320.3 411.5v12.5M1314.1 426.4h12.5M1320.3 420.1v12.5M1314.1 427.9h12.5M1320.3 421.6v12.5M1314.1 429.3h12.5M1320.3 423.1v12.5M1314.1 430.8h12.5M1320.3 424.6v12.5M1314.1 436.3h12.5M1320.3 430.0v12.5M1314.1 439.6h12.5M1320.3 433.3v12.5M1314.1 456.5h12.5M1320.3 450.3v12.5M1314.1 464.4h12.5M1320.3 458.2v12.5M1314.1 474.8h12.5M1320.3 468.6v12.5M1314.1 484.7h12.5M1320.3 478.4v12.5M1328.8 243.6h12.5M1335.0 237.4v12.5M1328.8 295.3h12.5M1335.0 289.0v12.5M1328.8 296.4h12.5M1335.0 290.2v12.5M1328.8 297.6h12.5M1335.0 291.3v12.5M1328.8 302.9h12.5M1335.0 296.7v12.5M1328.8 304.6h12.5M1335.0 298.4v12.5M1328.8 306.3h12.5M1335.0 300.1v12.5M1328.8 311.8h12.5M1335.0 305.5v12.5M1328.8 316.1h12.5M1335.0 309.8v12.5M1328.8 317.7h12.5M1335.0 311.5v12.5M1328.8 319.4h12.5M1335.0 313.2v12.5M1328.8 321.1h12.5M1335.0 314.8v12.5M1328.8 322.8h12.5M1335.0 316.5v12.5M1328.8 325.4h12.5M1335.0 319.1v12.5M1328.8 327.7h12.5M1335.0 321.4v12.5M1328.8 331.5h12.5M1335.0 325.2v12.5M1328.8 334.7h12.5M1335.0 328.4v12.5M1328.8 335.8h12.5M1335.0 329.6v12.5M1328.8 337.0h12.5M1335.0 330.7v12.5M1328.8 340.2h12.5M1335.0 333.9v12.5M1328.8 341.3h12.5M1335.0 335.1v12.5M1328.8 342.5h12.5M1335.0 336.2v12.5M1328.8 348.9h12.5M1335.0 342.7v12.5M1328.8 351.2h12.5M1335.0 345.0v12.5M1328.8 354.4h12.5M1335.0 348.2v12.5M1328.8 355.8h12.5M1335.0 349.6v12.5M1328.8 357.2h12.5M1335.0 351.0v12.5M1328.8 358.7h12.5M1335.0 352.4v12.5M1328.8 360.1h12.5M1335.0 353.8v12.5M1328.8 361.5h12.5M1335.0 355.3v12.5M1328.8 362.9h12.5M1335.0 356.7v12.5M1328.8 365.0h12.5M1335.0 358.8v12.5M1328.8 365.9h12.5M1335.0 359.7v12.5M1328.8 366.8h12.5M1335.0 360.5v12.5M1328.8 370.0h12.5M1335.0 363.7v12.5M1328.8 372.8h12.5M1335.0 366.6v12.5M1328.8 377.1h12.5M1335.0 370.8v12.5M1328.8 378.2h12.5M1335.0 372.0v12.5M1328.8 379.4h12.5M1335.0 373.1v12.5M1328.8 384.3h12.5M1335.0 378.0v12.5M1328.8 387.5h12.5M1335.0 381.3v12.5M1328.8 391.4h12.5M1335.0 385.1v12.5M1328.8 396.2h12.5M1335.0 390.0v12.5M1328.8 397.6h12.5M1335.0 391.3v12.5M1328.8 398.9h12.5M1335.0 392.6v12.5M1328.8 400.2h12.5M1335.0 393.9v12.5M1328.8 402.8h12.5M1335.0 396.6v12.5M1328.8 404.5h12.5M1335.0 398.2v12.5M1328.8 406.2h12.5M1335.0 399.9v12.5M1328.8 407.9h12.5M1335.0 401.6v12.5M1328.8 418.7h12.5M1335.0 412.4v12.5M1328.8 419.8h12.5M1335.0 413.6v12.5M1328.8 421.0h12.5M1335.0 414.7v12.5M1328.8 424.2h12.5M1335.0 418.0v12.5M1328.8 427.0h12.5M1335.0 420.7v12.5M1328.8 429.7h12.5M1335.0 423.4v12.5M1328.8 435.1h12.5M1335.0 428.9v12.5M1328.8 437.4h12.5M1335.0 431.1v12.5M1328.8 439.6h12.5M1335.0 433.4v12.5M1328.8 445.0h12.5M1335.0 438.8v12.5M1328.8 469.4h12.5M1335.0 463.1v12.5M1328.8 482.8h12.5M1335.0 476.6v12.5M1343.5 274.6h12.5M1349.8 268.4v12.5M1343.5 284.3h12.5M1349.8 278.1v12.5M1343.5 285.0h12.5M1349.8 278.7v12.5M1343.5 290.3h12.5M1349.8 284.1v12.5M1343.5 292.0h12.5M1349.8 285.8v12.5M1343.5 293.7h12.5M1349.8 287.5v12.5M1343.5 295.4h12.5M1349.8 289.1v12.5M1343.5 297.1h12.5M1349.8 290.8v12.5M1343.5 298.7h12.5M1349.8 292.5v12.5M1343.5 300.4h12.5M1349.8 294.2v12.5M1343.5 302.1h12.5M1349.8 295.8v12.5M1343.5 303.8h12.5M1349.8 297.5v12.5M1343.5 305.4h12.5M1349.8 299.2v12.5M1343.5 307.1h12.5M1349.8 300.9v12.5M1343.5 308.8h12.5M1349.8 302.5v12.5M1343.5 310.5h12.5M1349.8 304.2v12.5M1343.5 312.1h12.5M1349.8 305.9v12.5M1343.5 313.8h12.5M1349.8 307.6v12.5M1343.5 315.5h12.5M1349.8 309.2v12.5M1343.5 317.2h12.5M1349.8 310.9v12.5M1343.5 318.9h12.5M1349.8 312.6v12.5M1343.5 320.5h12.5M1349.8 314.3v12.5M1343.5 322.2h12.5M1349.8 316.0v12.5M1343.5 323.9h12.5M1349.8 317.6v12.5M1343.5 325.6h12.5M1349.8 319.3v12.5M1343.5 327.2h12.5M1349.8 321.0v12.5M1343.5 328.9h12.5M1349.8 322.7v12.5M1343.5 330.6h12.5M1349.8 324.3v12.5M1343.5 332.3h12.5M1349.8 326.0v12.5M1343.5 333.9h12.5M1349.8 327.7v12.5M1343.5 335.6h12.5M1349.8 329.4v12.5M1343.5 337.3h12.5M1349.8 331.0v12.5M1343.5 339.0h12.5M1349.8 332.7v12.5M1343.5 340.7h12.5M1349.8 334.4v12.5M1343.5 342.3h12.5M1349.8 336.1v12.5M1343.5 344.0h12.5M1349.8 337.8v12.5M1343.5 345.7h12.5M1349.8 339.4v12.5M1343.5 347.4h12.5M1349.8 341.1v12.5M1343.5 349.0h12.5M1349.8 342.8v12.5M1343.5 351.1h12.5M1349.8 344.9v12.5M1343.5 352.6h12.5M1349.8 346.4v12.5M1343.5 354.1h12.5M1349.8 347.9v12.5M1343.5 355.6h12.5M1349.8 349.4v12.5M1343.5 361.0h12.5M1349.8 354.7v12.5M1343.5 362.0h12.5M1349.8 355.7v12.5M1343.5 362.9h12.5M1349.8 356.7v12.5M1343.5 365.0h12.5M1349.8 358.8v12.5M1343.5 365.1h12.5M1349.8 358.9v12.5M1343.5 369.5h12.5M1349.8 363.2v12.5M1343.5 376.0h12.5M1349.8 369.7v12.5M1343.5 377.7h12.5M1349.8 371.4v12.5M1343.5 379.4h12.5M1349.8 373.1v12.5M1343.5 385.9h12.5M1349.8 379.6v12.5M1343.5 389.2h12.5M1349.8 382.9v12.5M1343.5 396.8h12.5M1349.8 390.6v12.5M1343.5 402.3h12.5M1349.8 396.0v12.5M1343.5 403.4h12.5M1349.8 397.2v12.5M1343.5 404.6h12.5M1349.8 398.3v12.5M1343.5 413.2h12.5M1349.8 407.0v12.5M1343.5 414.4h12.5M1349.8 408.1v12.5M1343.5 415.5h12.5M1349.8 409.3v12.5M1343.5 423.7h12.5M1349.8 417.4v12.5M1343.5 427.5h12.5M1349.8 421.3v12.5M1343.5 436.3h12.5M1349.8 430.0v12.5M1343.5 441.7h12.5M1349.8 435.4v12.5M1343.5 444.0h12.5M1349.8 437.7v12.5M1343.5 447.2h12.5M1349.8 441.0v12.5M1343.5 452.4h12.5M1349.8 446.1v12.5M1343.5 455.9h12.5M1349.8 449.6v12.5M1358.3 263.3h12.5M1364.5 257.0v12.5M1358.3 264.7h12.5M1364.5 258.5v12.5M1358.3 266.1h12.5M1364.5 259.9v12.5M1358.3 275.4h12.5M1364.5 269.1v12.5M1358.3 278.1h12.5M1364.5 271.9v12.5M1358.3 280.5h12.5M1364.5 274.3v12.5M1358.3 280.5h12.5M1364.5 274.3v12.5M1358.3 284.3h12.5M1364.5 278.1v12.5M1358.3 285.5h12.5M1364.5 279.3v12.5M1358.3 288.7h12.5M1364.5 282.5v12.5M1358.3 290.4h12.5M1364.5 284.1v12.5M1358.3 292.0h12.5M1364.5 285.8v12.5M1358.3 293.7h12.5M1364.5 287.5v12.5M1358.3 295.4h12.5M1364.5 289.1v12.5M1358.3 298.0h12.5M1364.5 291.8v12.5M1358.3 299.5h12.5M1364.5 293.3v12.5M1358.3 301.1h12.5M1364.5 294.8v12.5M1358.3 302.6h12.5M1364.5 296.4v12.5M1358.3 304.1h12.5M1364.5 297.9v12.5M1358.3 305.7h12.5M1364.5 299.4v12.5M1358.3 307.2h12.5M1364.5 301.0v12.5M1358.3 308.7h12.5M1364.5 302.5v12.5M1358.3 310.3h12.5M1364.5 304.0v12.5M1358.3 311.8h12.5M1364.5 305.6v12.5M1358.3 314.4h12.5M1364.5 308.2v12.5M1358.3 316.1h12.5M1364.5 309.8v12.5M1358.3 317.7h12.5M1364.5 311.5v12.5M1358.3 319.4h12.5M1364.5 313.1v12.5M1358.3 321.0h12.5M1364.5 314.8v12.5M1358.3 322.7h12.5M1364.5 316.4v12.5M1358.3 324.3h12.5M1364.5 318.1v12.5M1358.3 326.0h12.5M1364.5 319.7v12.5M1358.3 327.6h12.5M1364.5 321.4v12.5M1358.3 329.3h12.5M1364.5 323.0v12.5M1358.3 330.9h12.5M1364.5 324.7v12.5M1358.3 332.6h12.5M1364.5 326.3v12.5M1358.3 334.2h12.5M1364.5 328.0v12.5M1358.3 335.9h12.5M1364.5 329.6v12.5M1358.3 337.5h12.5M1364.5 331.3v12.5M1358.3 339.2h12.5M1364.5 332.9v12.5M1358.3 341.3h12.5M1364.5 335.0v12.5M1358.3 342.9h12.5M1364.5 336.7v12.5M1358.3 344.6h12.5M1364.5 338.3v12.5M1358.3 346.2h12.5M1364.5 340.0v12.5M1358.3 347.9h12.5M1364.5 341.6v12.5M1358.3 349.5h12.5M1364.5 343.3v12.5M1358.3 351.2h12.5M1364.5 344.9v12.5M1358.3 352.9h12.5M1364.5 346.6v12.5M1358.3 354.5h12.5M1364.5 348.3v12.5M1358.3 358.3h12.5M1364.5 352.0v12.5M1358.3 361.6h12.5M1364.5 355.3v12.5M1358.3 365.0h12.5M1364.5 358.8v12.5M1358.3 365.1h12.5M1364.5 358.9v12.5M1358.3 370.5h12.5M1364.5 364.3v12.5M1358.3 372.0h12.5M1364.5 365.8v12.5M1358.3 373.5h12.5M1364.5 367.3v12.5M1358.3 375.0h12.5M1364.5 368.8v12.5M1358.3 384.3h12.5M1364.5 378.0v12.5M1358.3 391.9h12.5M1364.5 385.6v12.5M1358.3 393.2h12.5M1364.5 386.9v12.5M1358.3 394.5h12.5M1364.5 388.2v12.5M1358.3 395.8h12.5M1364.5 389.6v12.5M1358.3 400.1h12.5M1364.5 393.9v12.5M1358.3 420.3h12.5M1364.5 414.1v12.5M1358.3 421.5h12.5M1364.5 415.2v12.5M1358.3 422.6h12.5M1364.5 416.4v12.5M1358.3 430.2h12.5M1364.5 424.0v12.5M1358.3 433.5h12.5M1364.5 427.3v12.5M1358.3 442.8h12.5M1364.5 436.5v12.5M1358.3 444.9h12.5M1364.5 438.6v12.5M1358.3 446.9h12.5M1364.5 440.7v12.5M1358.3 448.0h12.5M1364.5 441.8v12.5M1358.3 484.4h12.5M1364.5 478.1v12.5M1373.0 257.8h12.5M1379.2 251.6v12.5M1373.0 259.9h12.5M1379.2 253.6v12.5M1373.0 261.9h12.5M1379.2 255.6v12.5M1373.0 263.9h12.5M1379.2 257.7v12.5M1373.0 270.9h12.5M1379.2 264.7v12.5M1373.0 272.1h12.5M1379.2 265.8v12.5M1373.0 273.2h12.5M1379.2 267.0v12.5M1373.0 280.0h12.5M1379.2 273.7v12.5M1373.0 282.1h12.5M1379.2 275.9v12.5M1373.0 283.8h12.5M1379.2 277.6v12.5M1373.0 285.5h12.5M1379.2 279.2v12.5M1373.0 287.1h12.5M1379.2 280.9v12.5M1373.0 288.8h12.5M1379.2 282.6v12.5M1373.0 292.0h12.5M1379.2 285.7v12.5M1373.0 293.7h12.5M1379.2 287.4v12.5M1373.0 295.3h12.5M1379.2 289.1v12.5M1373.0 297.0h12.5M1379.2 290.7v12.5M1373.0 298.7h12.5M1379.2 292.4v12.5M1373.0 301.8h12.5M1379.2 295.6v12.5M1373.0 303.5h12.5M1379.2 297.3v12.5M1373.0 305.2h12.5M1379.2 298.9v12.5M1373.0 306.9h12.5M1379.2 300.6v12.5M1373.0 308.5h12.5M1379.2 302.3v12.5M1373.0 311.7h12.5M1379.2 305.4v12.5M1373.0 313.3h12.5M1379.2 307.1v12.5M1373.0 314.9h12.5M1379.2 308.7v12.5M1373.0 316.5h12.5M1379.2 310.3v12.5M1373.0 318.1h12.5M1379.2 311.9v12.5M1373.0 319.7h12.5M1379.2 313.5v12.5M1373.0 321.3h12.5M1379.2 315.1v12.5M1373.0 322.9h12.5M1379.2 316.7v12.5M1373.0 324.5h12.5M1379.2 318.3v12.5M1373.0 326.1h12.5M1379.2 319.9v12.5M1373.0 327.7h12.5M1379.2 321.5v12.5M1373.0 329.3h12.5M1379.2 323.1v12.5M1373.0 331.4h12.5M1379.2 325.2v12.5M1373.0 333.0h12.5M1379.2 326.7v12.5M1373.0 334.5h12.5M1379.2 328.3v12.5M1373.0 336.1h12.5M1379.2 329.8v12.5M1373.0 337.6h12.5M1379.2 331.4v12.5M1373.0 339.2h12.5M1379.2 333.0v12.5M1373.0 340.8h12.5M1379.2 334.5v12.5M1373.0 342.3h12.5M1379.2 336.1v12.5M1373.0 343.9h12.5M1379.2 337.6v12.5M1373.0 345.4h12.5M1379.2 339.2v12.5M1373.0 347.0h12.5M1379.2 340.8v12.5M1373.0 348.6h12.5M1379.2 342.3v12.5M1373.0 350.1h12.5M1379.2 343.9v12.5M1373.0 352.8h12.5M1379.2 346.5v12.5M1373.0 354.5h12.5M1379.2 348.2v12.5M1373.0 356.2h12.5M1379.2 349.9v12.5M1373.0 357.8h12.5M1379.2 351.6v12.5M1373.0 359.5h12.5M1379.2 353.3v12.5M1373.0 361.2h12.5M1379.2 355.0v12.5M1373.0 362.9h12.5M1379.2 356.7v12.5M1373.0 365.0h12.5M1379.2 358.8v12.5M1373.0 366.5h12.5M1379.2 360.2v12.5M1373.0 367.9h12.5M1379.2 361.6v12.5M1373.0 372.2h12.5M1379.2 366.0v12.5M1373.0 383.2h12.5M1379.2 376.9v12.5M1373.0 386.4h12.5M1379.2 380.2v12.5M1373.0 397.4h12.5M1379.2 391.1v12.5M1373.0 400.1h12.5M1379.2 393.9v12.5M1373.0 406.7h12.5M1379.2 400.5v12.5M1373.0 409.4h12.5M1379.2 403.2v12.5M1373.0 433.0h12.5M1379.2 426.7v12.5M1373.0 440.1h12.5M1379.2 433.8v12.5M1387.7 244.0h12.5M1394.0 237.7v12.5M1387.7 249.0h12.5M1394.0 242.8v12.5M1387.7 250.8h12.5M1394.0 244.6v12.5M1387.7 255.6h12.5M1394.0 249.4v12.5M1387.7 256.3h12.5M1394.0 250.0v12.5M1387.7 259.5h12.5M1394.0 253.2v12.5M1387.7 261.1h12.5M1394.0 254.9v12.5M1387.7 262.8h12.5M1394.0 256.6v12.5M1387.7 271.5h12.5M1394.0 265.2v12.5M1387.7 273.2h12.5M1394.0 266.9v12.5M1387.7 274.9h12.5M1394.0 268.6v12.5M1387.7 281.0h12.5M1394.0 274.8v12.5M1387.7 282.7h12.5M1394.0 276.5v12.5M1387.7 284.4h12.5M1394.0 278.1v12.5M1387.7 286.0h12.5M1394.0 279.8v12.5M1387.7 287.7h12.5M1394.0 281.5v12.5M1387.7 290.9h12.5M1394.0 284.6v12.5M1387.7 292.5h12.5M1394.0 286.3v12.5M1387.7 294.2h12.5M1394.0 287.9v12.5M1387.7 295.8h12.5M1394.0 289.6v12.5M1387.7 297.5h12.5M1394.0 291.2v12.5M1387.7 299.1h12.5M1394.0 292.9v12.5M1387.7 300.8h12.5M1394.0 294.5v12.5M1387.7 302.4h12.5M1394.0 296.2v12.5M1387.7 304.1h12.5M1394.0 297.8v12.5M1387.7 305.7h12.5M1394.0 299.5v12.5M1387.7 307.4h12.5M1394.0 301.1v12.5M1387.7 309.0h12.5M1394.0 302.8v12.5M1387.7 310.7h12.5M1394.0 304.4v12.5M1387.7 312.3h12.5M1394.0 306.1v12.5M1387.7 314.0h12.5M1394.0 307.7v12.5M1387.7 315.6h12.5M1394.0 309.4v12.5M1387.7 317.3h12.5M1394.0 311.0v12.5M1387.7 318.9h12.5M1394.0 312.6v12.5M1387.7 320.5h12.5M1394.0 314.3v12.5M1387.7 322.2h12.5M1394.0 315.9v12.5M1387.7 323.8h12.5M1394.0 317.6v12.5M1387.7 325.5h12.5M1394.0 319.2v12.5M1387.7 327.1h12.5M1394.0 320.9v12.5M1387.7 329.2h12.5M1394.0 323.0v12.5M1387.7 330.9h12.5M1394.0 324.7v12.5M1387.7 332.6h12.5M1394.0 326.4v12.5M1387.7 334.3h12.5M1394.0 328.0v12.5M1387.7 336.0h12.5M1394.0 329.7v12.5M1387.7 337.7h12.5M1394.0 331.4v12.5M1387.7 339.4h12.5M1394.0 333.1v12.5M1387.7 341.1h12.5M1394.0 334.8v12.5M1387.7 342.8h12.5M1394.0 336.5v12.5M1387.7 344.5h12.5M1394.0 338.2v12.5M1387.7 346.1h12.5M1394.0 339.9v12.5M1387.7 347.8h12.5M1394.0 341.6v12.5M1387.7 349.5h12.5M1394.0 343.3v12.5M1387.7 351.2h12.5M1394.0 345.0v12.5M1387.7 354.4h12.5M1394.0 348.2v12.5M1387.7 355.8h12.5M1394.0 349.6v12.5M1387.7 357.2h12.5M1394.0 351.0v12.5M1387.7 358.7h12.5M1394.0 352.4v12.5M1387.7 360.1h12.5M1394.0 353.8v12.5M1387.7 361.5h12.5M1394.0 355.3v12.5M1387.7 362.9h12.5M1394.0 356.7v12.5M1387.7 365.0h12.5M1394.0 358.8v12.5M1387.7 366.2h12.5M1394.0 360.0v12.5M1387.7 370.0h12.5M1394.0 363.8v12.5M1387.7 379.3h12.5M1394.0 373.1v12.5M1387.7 384.3h12.5M1394.0 378.0v12.5M1387.7 387.5h12.5M1394.0 381.3v12.5M1387.7 393.0h12.5M1394.0 386.8v12.5M1387.7 399.6h12.5M1394.0 393.3v12.5M1387.7 407.7h12.5M1394.0 401.5v12.5M1387.7 408.9h12.5M1394.0 402.6v12.5M1387.7 410.0h12.5M1394.0 403.8v12.5M1387.7 420.3h12.5M1394.0 414.1v12.5M1387.7 421.5h12.5M1394.0 415.3v12.5M1387.7 427.5h12.5M1394.0 421.3v12.5M1387.7 435.7h12.5M1394.0 429.5v12.5M1387.7 448.5h12.5M1394.0 442.3v12.5M1387.7 487.4h12.5M1394.0 481.2v12.5M1402.5 207.3h12.5M1408.7 201.0v12.5M1402.5 239.2h12.5M1408.7 233.0v12.5M1402.5 250.1h12.5M1408.7 243.9v12.5M1402.5 251.7h12.5M1408.7 245.4v12.5M1402.5 253.3h12.5M1408.7 247.0v12.5M1402.5 254.8h12.5M1408.7 248.6v12.5M1402.5 256.4h12.5M1408.7 250.1v12.5M1402.5 257.9h12.5M1408.7 251.7v12.5M1402.5 261.6h12.5M1408.7 255.4v12.5M1402.5 262.3h12.5M1408.7 256.0v12.5M1402.5 266.6h12.5M1408.7 260.3v12.5M1402.5 267.2h12.5M1408.7 261.0v12.5M1402.5 270.4h12.5M1408.7 264.2v12.5M1402.5 271.8h12.5M1408.7 265.6v12.5M1402.5 273.2h12.5M1408.7 267.0v12.5M1402.5 274.7h12.5M1408.7 268.4v12.5M1402.5 276.1h12.5M1408.7 269.8v12.5M1402.5 277.5h12.5M1408.7 271.3v12.5M1402.5 278.9h12.5M1408.7 272.7v12.5M1402.5 281.0h12.5M1408.7 274.8v12.5M1402.5 282.7h12.5M1408.7 276.4v12.5M1402.5 284.3h12.5M1408.7 278.1v12.5M1402.5 286.0h12.5M1408.7 279.7v12.5M1402.5 287.6h12.5M1408.7 281.4v12.5M1402.5 289.3h12.5M1408.7 283.0v12.5M1402.5 290.9h12.5M1408.7 284.7v12.5M1402.5 292.6h12.5M1408.7 286.3v12.5M1402.5 294.2h12.5M1408.7 288.0v12.5M1402.5 295.9h12.5M1408.7 289.6v12.5M1402.5 297.5h12.5M1408.7 291.3v12.5M1402.5 299.2h12.5M1408.7 292.9v12.5M1402.5 300.8h12.5M1408.7 294.6v12.5M1402.5 302.5h12.5M1408.7 296.2v12.5M1402.5 304.1h12.5M1408.7 297.9v12.5M1402.5 305.8h12.5M1408.7 299.5v12.5M1402.5 307.4h12.5M1408.7 301.2v12.5M1402.5 309.0h12.5M1408.7 302.8v12.5M1402.5 310.7h12.5M1408.7 304.4v12.5M1402.5 312.3h12.5M1408.7 306.1v12.5M1402.5 314.0h12.5M1408.7 307.7v12.5M1402.5 315.6h12.5M1408.7 309.4v12.5M1402.5 317.7h12.5M1408.7 311.5v12.5M1402.5 319.4h12.5M1408.7 313.1v12.5M1402.5 321.0h12.5M1408.7 314.8v12.5M1402.5 322.7h12.5M1408.7 316.4v12.5M1402.5 324.3h12.5M1408.7 318.1v12.5M1402.5 326.0h12.5M1408.7 319.7v12.5M1402.5 327.6h12.5M1408.7 321.4v12.5M1402.5 329.2h12.5M1408.7 323.0v12.5M1402.5 330.9h12.5M1408.7 324.6v12.5M1402.5 332.5h12.5M1408.7 326.3v12.5M1402.5 334.2h12.5M1408.7 327.9v12.5M1402.5 335.8h12.5M1408.7 329.6v12.5M1402.5 337.5h12.5M1408.7 331.2v12.5M1402.5 339.1h12.5M1408.7 332.9v12.5M1402.5 340.8h12.5M1408.7 334.5v12.5M1402.5 342.4h12.5M1408.7 336.2v12.5M1402.5 344.1h12.5M1408.7 337.8v12.5M1402.5 345.7h12.5M1408.7 339.5v12.5M1402.5 347.4h12.5M1408.7 341.1v12.5M1402.5 349.0h12.5M1408.7 342.8v12.5M1402.5 350.7h12.5M1408.7 344.4v12.5M1402.5 352.3h12.5M1408.7 346.1v12.5M1402.5 353.9h12.5M1408.7 347.7v12.5M1402.5 355.6h12.5M1408.7 349.3v12.5M1402.5 357.2h12.5M1408.7 351.0v12.5M1402.5 358.9h12.5M1408.7 352.6v12.5M1402.5 363.1h12.5M1408.7 356.8v12.5M1402.5 363.1h12.5M1408.7 356.8v12.5M1402.5 365.1h12.5M1408.7 358.8v12.5M1402.5 373.3h12.5M1408.7 367.1v12.5M1402.5 386.9h12.5M1408.7 380.7v12.5M1402.5 387.6h12.5M1408.7 381.3v12.5M1402.5 405.1h12.5M1408.7 398.8v12.5M1402.5 409.4h12.5M1408.7 403.2v12.5M1402.5 436.0h12.5M1408.7 429.8v12.5M1402.5 453.8h12.5M1408.7 447.5v12.5M1417.2 202.4h12.5M1423.4 196.1v12.5M1417.2 206.7h12.5M1423.4 200.5v12.5M1417.2 225.0h12.5M1423.4 218.8v12.5M1417.2 228.2h12.5M1423.4 222.0v12.5M1417.2 229.7h12.5M1423.4 223.4v12.5M1417.2 231.1h12.5M1423.4 224.8v12.5M1417.2 234.3h12.5M1423.4 228.0v12.5M1417.2 234.9h12.5M1423.4 228.7v12.5M1417.2 240.8h12.5M1423.4 234.6v12.5M1417.2 242.0h12.5M1423.4 235.8v12.5M1417.2 246.9h12.5M1423.4 240.6v12.5M1417.2 249.7h12.5M1423.4 243.5v12.5M1417.2 252.3h12.5M1423.4 246.1v12.5M1417.2 253.5h12.5M1423.4 247.3v12.5M1417.2 258.9h12.5M1423.4 252.7v12.5M1417.2 260.7h12.5M1423.4 254.4v12.5M1417.2 263.8h12.5M1423.4 257.6v12.5M1417.2 265.3h12.5M1423.4 259.1v12.5M1417.2 266.8h12.5M1423.4 260.6v12.5M1417.2 268.3h12.5M1423.4 262.1v12.5M1417.2 271.5h12.5M1423.4 265.2v12.5M1417.2 273.0h12.5M1423.4 266.7v12.5M1417.2 274.5h12.5M1423.4 268.2v12.5M1417.2 276.0h12.5M1423.4 269.7v12.5M1417.2 277.5h12.5M1423.4 271.2v12.5M1417.2 278.9h12.5M1423.4 272.7v12.5M1417.2 281.0h12.5M1423.4 274.8v12.5M1417.2 282.2h12.5M1423.4 276.0v12.5M1417.2 285.4h12.5M1423.4 279.2v12.5M1417.2 286.8h12.5M1423.4 280.6v12.5M1417.2 288.2h12.5M1423.4 282.0v12.5M1417.2 289.6h12.5M1423.4 283.4v12.5M1417.2 291.0h12.5M1423.4 284.8v12.5M1417.2 294.2h12.5M1423.4 287.9v12.5M1417.2 295.8h12.5M1423.4 289.6v12.5M1417.2 297.5h12.5M1423.4 291.2v12.5M1417.2 299.1h12.5M1423.4 292.9v12.5M1417.2 300.8h12.5M1423.4 294.5v12.5M1417.2 302.4h12.5M1423.4 296.2v12.5M1417.2 304.1h12.5M1423.4 297.8v12.5M1417.2 305.7h12.5M1423.4 299.5v12.5M1417.2 307.4h12.5M1423.4 301.1v12.5M1417.2 309.0h12.5M1423.4 302.8v12.5M1417.2 310.7h12.5M1423.4 304.4v12.5M1417.2 312.3h12.5M1423.4 306.1v12.5M1417.2 314.0h12.5M1423.4 307.7v12.5M1417.2 316.1h12.5M1423.4 309.8v12.5M1417.2 317.8h12.5M1423.4 311.5v12.5M1417.2 319.4h12.5M1423.4 313.2v12.5M1417.2 321.1h12.5M1423.4 314.9v12.5M1417.2 322.8h12.5M1423.4 316.6v12.5M1417.2 324.5h12.5M1423.4 318.2v12.5M1417.2 326.2h12.5M1423.4 319.9v12.5M1417.2 327.8h12.5M1423.4 321.6v12.5M1417.2 329.5h12.5M1423.4 323.3v12.5M1417.2 331.2h12.5M1423.4 325.0v12.5M1417.2 332.9h12.5M1423.4 326.6v12.5M1417.2 334.6h12.5M1423.4 328.3v12.5M1417.2 336.3h12.5M1423.4 330.0v12.5M1417.2 337.9h12.5M1423.4 331.7v12.5M1417.2 339.6h12.5M1423.4 333.4v12.5M1417.2 341.3h12.5M1423.4 335.0v12.5M1417.2 343.0h12.5M1423.4 336.7v12.5M1417.2 344.7h12.5M1423.4 338.4v12.5M1417.2 347.3h12.5M1423.4 341.0v12.5M1417.2 348.8h12.5M1423.4 342.5v12.5M1417.2 350.3h12.5M1423.4 344.0v12.5M1417.2 351.8h12.5M1423.4 345.5v12.5M1417.2 353.3h12.5M1423.4 347.0v12.5M1417.2 354.8h12.5M1423.4 348.5v12.5M1417.2 356.3h12.5M1423.4 350.0v12.5M1417.2 357.8h12.5M1423.4 351.5v12.5M1417.2 360.4h12.5M1423.4 354.2v12.5M1417.2 362.9h12.5M1423.4 356.7v12.5M1417.2 367.2h12.5M1423.4 361.0v12.5M1417.2 367.9h12.5M1423.4 361.6v12.5M1417.2 374.9h12.5M1423.4 368.7v12.5M1417.2 380.9h12.5M1423.4 374.7v12.5M1417.2 382.6h12.5M1423.4 376.4v12.5M1417.2 384.3h12.5M1423.4 378.1v12.5M1417.2 387.5h12.5M1423.4 381.3v12.5M1417.2 399.5h12.5M1423.4 393.3v12.5M1417.2 400.2h12.5M1423.4 393.9v12.5M1417.2 414.1h12.5M1423.4 407.9v12.5M1431.9 208.3h12.5M1438.2 202.0v12.5M1431.9 237.6h12.5M1438.2 231.4v12.5M1431.9 245.8h12.5M1438.2 239.6v12.5M1431.9 254.0h12.5M1438.2 247.8v12.5M1431.9 261.6h12.5M1438.2 255.4v12.5M1431.9 262.8h12.5M1438.2 256.6v12.5M1431.9 266.6h12.5M1438.2 260.3v12.5M1431.9 268.2h12.5M1438.2 262.0v12.5M1431.9 269.9h12.5M1438.2 263.7v12.5M1431.9 271.6h12.5M1438.2 265.4v12.5M1431.9 277.0h12.5M1438.2 270.7v12.5M1431.9 278.9h12.5M1438.2 272.7v12.5M1431.9 281.0h12.5M1438.2 274.8v12.5M1431.9 282.5h12.5M1438.2 276.2v12.5M1431.9 283.9h12.5M1438.2 277.6v12.5M1431.9 287.1h12.5M1438.2 280.8v12.5M1431.9 288.2h12.5M1438.2 282.0v12.5M1431.9 289.4h12.5M1438.2 283.1v12.5M1431.9 293.7h12.5M1438.2 287.4v12.5M1431.9 298.0h12.5M1438.2 291.8v12.5M1431.9 299.6h12.5M1438.2 293.4v12.5M1431.9 301.2h12.5M1438.2 295.0v12.5M1431.9 302.8h12.5M1438.2 296.6v12.5M1431.9 304.5h12.5M1438.2 298.2v12.5M1431.9 306.1h12.5M1438.2 299.8v12.5M1431.9 307.7h12.5M1438.2 301.4v12.5M1431.9 309.3h12.5M1438.2 303.0v12.5M1431.9 310.9h12.5M1438.2 304.7v12.5M1431.9 312.5h12.5M1438.2 306.3v12.5M1431.9 314.1h12.5M1438.2 307.9v12.5M1431.9 315.7h12.5M1438.2 309.5v12.5M1431.9 317.3h12.5M1438.2 311.1v12.5M1431.9 319.0h12.5M1438.2 312.7v12.5M1431.9 320.6h12.5M1438.2 314.3v12.5M1431.9 322.6h12.5M1438.2 316.4v12.5M1431.9 324.3h12.5M1438.2 318.0v12.5M1431.9 325.9h12.5M1438.2 319.7v12.5M1431.9 327.6h12.5M1438.2 321.3v12.5M1431.9 329.2h12.5M1438.2 323.0v12.5M1431.9 330.9h12.5M1438.2 324.6v12.5M1431.9 332.5h12.5M1438.2 326.3v12.5M1431.9 334.2h12.5M1438.2 327.9v12.5M1431.9 335.8h12.5M1438.2 329.6v12.5M1431.9 337.5h12.5M1438.2 331.2v12.5M1431.9 339.1h12.5M1438.2 332.9v12.5M1431.9 340.8h12.5M1438.2 334.5v12.5M1431.9 342.4h12.5M1438.2 336.2v12.5M1431.9 344.1h12.5M1438.2 337.8v12.5M1431.9 345.7h12.5M1438.2 339.5v12.5M1431.9 347.4h12.5M1438.2 341.1v12.5M1431.9 349.0h12.5M1438.2 342.8v12.5M1431.9 352.8h12.5M1438.2 346.5v12.5M1431.9 354.2h12.5M1438.2 347.9v12.5M1431.9 355.6h12.5M1438.2 349.4v12.5M1431.9 361.0h12.5M1438.2 354.7v12.5M1431.9 362.9h12.5M1438.2 356.7v12.5M1431.9 368.9h12.5M1438.2 362.7v12.5M1431.9 372.2h12.5M1438.2 365.9v12.5M1431.9 372.8h12.5M1438.2 366.6v12.5M1431.9 381.3h12.5M1438.2 375.0v12.5M1431.9 396.3h12.5M1438.2 390.1v12.5M1431.9 402.3h12.5M1438.2 396.1v12.5M1431.9 421.8h12.5M1438.2 415.6v12.5M1446.6 252.1h12.5M1452.9 245.8v12.5M1446.6 274.8h12.5M1452.9 268.6v12.5M1446.6 280.0h12.5M1452.9 273.8v12.5M1446.6 290.9h12.5M1452.9 284.6v12.5M1446.6 292.4h12.5M1452.9 286.2v12.5M1446.6 294.0h12.5M1452.9 287.8v12.5M1446.6 295.6h12.5M1452.9 289.3v12.5M1446.6 297.1h12.5M1452.9 290.9v12.5M1446.6 298.7h12.5M1452.9 292.4v12.5M1446.6 302.4h12.5M1452.9 296.2v12.5M1446.6 305.7h12.5M1452.9 299.4v12.5M1446.6 307.4h12.5M1452.9 301.1v12.5M1446.6 309.0h12.5M1452.9 302.8v12.5M1446.6 310.7h12.5M1452.9 304.5v12.5M1446.6 313.3h12.5M1452.9 307.1v12.5M1446.6 314.7h12.5M1452.9 308.4v12.5M1446.6 316.0h12.5M1452.9 309.7v12.5M1446.6 317.3h12.5M1452.9 311.0v12.5M1446.6 323.8h12.5M1452.9 317.5v12.5M1446.6 329.3h12.5M1452.9 323.0v12.5M1446.6 335.2h12.5M1452.9 329.0v12.5M1446.6 335.9h12.5M1452.9 329.6v12.5M1446.6 340.2h12.5M1452.9 333.9v12.5M1446.6 341.4h12.5M1452.9 335.1v12.5M1446.6 345.6h12.5M1452.9 339.4v12.5M1446.6 347.3h12.5M1452.9 341.1v12.5M1446.6 349.0h12.5M1452.9 342.8v12.5M1446.6 352.8h12.5M1452.9 346.5v12.5M1446.6 353.6h12.5M1452.9 347.4v12.5M1446.6 354.5h12.5M1452.9 348.3v12.5M1446.6 359.3h12.5M1452.9 353.1v12.5M1446.6 361.1h12.5M1452.9 354.9v12.5M1446.6 362.9h12.5M1452.9 356.7v12.5M1446.6 366.4h12.5M1452.9 360.2v12.5M1446.6 375.4h12.5M1452.9 369.2v12.5M1446.6 378.2h12.5M1452.9 372.0v12.5M1446.6 381.0h12.5M1452.9 374.8v12.5M1446.6 432.4h12.5M1452.9 426.2v12.5M1446.6 436.5h12.5M1452.9 430.2v12.5M1461.4 255.1h12.5M1467.6 248.8v12.5M1461.4 255.9h12.5M1467.6 249.7v12.5M1461.4 256.8h12.5M1467.6 250.6v12.5M1461.4 280.0h12.5M1467.6 273.7v12.5M1461.4 299.7h12.5M1467.6 293.4v12.5M1461.4 301.2h12.5M1467.6 294.9v12.5M1461.4 302.6h12.5M1467.6 296.4v12.5M1461.4 304.1h12.5M1467.6 297.9v12.5M1461.4 309.5h12.5M1467.6 303.3v12.5M1461.4 310.9h12.5M1467.6 304.7v12.5M1461.4 312.3h12.5M1467.6 306.1v12.5M1461.4 313.7h12.5M1467.6 307.4v12.5M1461.4 315.1h12.5M1467.6 308.8v12.5M1461.4 318.9h12.5M1467.6 312.6v12.5M1461.4 322.2h12.5M1467.6 315.9v12.5M1461.4 328.2h12.5M1467.6 321.9v12.5M1461.4 334.7h12.5M1467.6 328.5v12.5M1461.4 342.4h12.5M1467.6 336.1v12.5M1461.4 343.6h12.5M1467.6 337.3v12.5M1461.4 349.5h12.5M1467.6 343.2v12.5M1461.4 351.8h12.5M1467.6 345.5v12.5M1461.4 355.6h12.5M1467.6 349.3v12.5M1461.4 361.6h12.5M1467.6 355.3v12.5M1461.4 368.4h12.5M1467.6 362.1v12.5M1461.4 371.9h12.5M1467.6 365.6v12.5M1461.4 377.1h12.5M1467.6 370.9v12.5M1461.4 384.3h12.5M1467.6 378.0v12.5M1461.4 387.0h12.5M1467.6 380.7v12.5M1461.4 395.8h12.5M1467.6 389.5v12.5M1461.4 427.5h12.5M1467.6 421.3v12.5M1461.4 473.5h12.5M1467.6 467.2v12.5M1476.1 282.4h12.5M1482.3 276.2v12.5M1476.1 300.6h12.5M1482.3 294.3v12.5M1476.1 303.5h12.5M1482.3 297.3v12.5M1476.1 306.8h12.5M1482.3 300.6v12.5M1476.1 310.1h12.5M1482.3 303.9v12.5M1476.1 312.2h12.5M1482.3 306.0v12.5M1476.1 312.4h12.5M1482.3 306.1v12.5M1476.1 318.3h12.5M1482.3 312.1v12.5M1476.1 322.2h12.5M1482.3 315.9v12.5M1476.1 324.9h12.5M1482.3 318.6v12.5M1476.1 340.7h12.5M1482.3 334.5v12.5M1476.1 341.4h12.5M1482.3 335.1v12.5M1476.1 391.9h12.5M1482.3 385.7v12.5M1476.1 398.2h12.5M1482.3 391.9v12.5M1476.1 412.7h12.5M1482.3 406.5v12.5M1476.1 436.8h12.5M1482.3 430.6v12.5M1490.8 275.4h12.5M1497.1 269.1v12.5M1490.8 294.2h12.5M1497.1 288.0v12.5M1490.8 322.7h12.5M1497.1 316.5v12.5M1490.8 336.1h12.5M1497.1 329.8v12.5M1490.8 373.0h12.5M1497.1 366.7v12.5M1490.8 383.2h12.5M1497.1 376.9v12.5M1490.8 390.3h12.5M1497.1 384.0v12.5M1490.8 393.6h12.5M1497.1 387.3v12.5M1490.8 429.1h12.5M1497.1 422.9v12.5M1490.8 434.1h12.5M1497.1 427.8v12.5M1490.8 439.0h12.5M1497.1 432.8v12.5M1505.6 283.8h12.5M1511.8 277.6v12.5M1505.6 322.2h12.5M1511.8 315.9v12.5M1505.6 330.6h12.5M1511.8 324.3v12.5M1505.6 337.5h12.5M1511.8 331.2v12.5M1505.6 353.4h12.5M1511.8 347.1v12.5M1505.6 369.5h12.5M1511.8 363.2v12.5M1505.6 408.3h12.5M1511.8 402.0v12.5M1505.6 409.5h12.5M1511.8 403.2v12.5M1505.6 431.9h12.5M1511.8 425.6v12.5M1520.3 235.2h12.5M1526.5 228.9v12.5M1520.3 265.0h12.5M1526.5 258.7v12.5M1520.3 277.2h12.5M1526.5 271.0v12.5M1520.3 293.1h12.5M1526.5 286.9v12.5M1520.3 329.3h12.5M1526.5 323.0v12.5M1520.3 358.3h12.5M1526.5 352.0v12.5M1520.3 370.8h12.5M1526.5 364.5v12.5M1520.3 396.6h12.5M1526.5 390.4v12.5M1520.3 408.1h12.5M1526.5 401.9v12.5M1535.0 218.4h12.5M1541.3 212.2v12.5M1535.0 240.7h12.5M1541.3 234.4v12.5M1535.0 312.8h12.5M1541.3 306.5v12.5M1535.0 314.0h12.5M1541.3 307.7v12.5M1535.0 329.8h12.5M1541.3 323.6v12.5M1535.0 351.2h12.5M1541.3 344.9v12.5M1535.0 356.1h12.5M1541.3 349.8v12.5M1535.0 382.1h12.5M1541.3 375.8v12.5M1535.0 394.9h12.5M1541.3 388.6v12.5M1549.8 305.4h12.5M1556.0 299.2v12.5M1549.8 318.1h12.5M1556.0 311.9v12.5M1549.8 328.0h12.5M1556.0 321.7v12.5M1549.8 341.1h12.5M1556.0 334.8v12.5M1549.8 351.0h12.5M1556.0 344.7v12.5M1549.8 384.6h12.5M1556.0 378.3v12.5M1564.5 254.6h12.5M1570.7 248.3v12.5M1564.5 299.9h12.5M1570.7 293.7v12.5M1564.5 341.3h12.5M1570.7 335.1v12.5M1564.5 344.1h12.5M1570.7 337.8v12.5M1564.5 355.3h12.5M1570.7 349.1v12.5M1564.5 361.6h12.5M1570.7 355.3v12.5M1564.5 395.2h12.5M1570.7 389.0v12.5M1579.2 240.2h12.5M1585.5 234.0v12.5M1579.2 257.2h12.5M1585.5 250.9v12.5M1579.2 304.5h12.5M1585.5 298.3v12.5M1579.2 352.8h12.5M1585.5 346.6v12.5M1579.2 358.1h12.5M1585.5 351.9v12.5M1579.2 408.0h12.5M1585.5 401.7v12.5M1593.9 183.0h12.5M1600.2 176.7v12.5M1593.9 289.2h12.5M1600.2 283.0v12.5M1593.9 297.7h12.5M1600.2 291.5v12.5M1593.9 302.0h12.5M1600.2 295.7v12.5M1593.9 305.1h12.5M1600.2 298.9v12.5M1593.9 309.4h12.5M1600.2 303.1v12.5M1593.9 341.2h12.5M1600.2 334.9v12.5M1593.9 345.4h12.5M1600.2 339.2v12.5M1593.9 348.6h12.5M1600.2 342.3v12.5M1593.9 380.4h12.5M1600.2 374.1v12.5M1593.9 400.5h12.5M1600.2 394.3v12.5M1593.9 418.6h12.5M1600.2 412.3v12.5M1608.7 254.0h12.5M1614.9 247.8v12.5M1608.7 315.7h12.5M1614.9 309.5v12.5M1608.7 353.3h12.5M1614.9 347.0v12.5M1623.4 242.4h12.5M1629.7 236.1v12.5M1623.4 245.5h12.5M1629.7 239.3v12.5M1623.4 322.1h12.5M1629.7 315.8v12.5M1638.1 259.3h12.5M1644.4 253.1v12.5M1638.1 267.8h12.5M1644.4 261.5v12.5M1638.1 296.7h12.5M1644.4 290.4v12.5M1638.1 325.3h12.5M1644.4 319.0v12.5" stroke="#000" stroke-width="2.08" fill="none"/>
<line x1="960.40" y1="295.19" x2="1689.90" y2="69.77" stroke="#0000ff" stroke-width="3.08" stroke-dasharray="11.41 4.93"/>
<line x1="960.40" y1="356.11" x2="1689.90" y2="130.69" stroke="#0000ff" stroke-width="3.08" stroke-dasharray="11.41 4.93"/>
<line x1="960.40" y1="417.03" x2="1689.90" y2="191.61" stroke="#0000ff" stroke-width="3.08" stroke-dasharray="11.41 4.93"/>
<line x1="960.40" y1="477.95" x2="1689.90" y2="252.53" stroke="#0000ff" stroke-width="3.08" stroke-dasharray="11.41 4.93"/>
<line x1="960.40" y1="538.87" x2="1689.90" y2="313.45" stroke="#0000ff" stroke-width="3.08" stroke-dasharray="11.41 4.93"/>
<line x1="960.40" y1="599.79" x2="1689.90" y2="374.37" stroke="#0000ff" stroke-width="3.08" stroke-dasharray="11.41 4.93"/>
<path d="M966.8 456.9L960.5 469.4L973.0 469.4ZM996.3 474.1L990.0 486.6L1002.5 486.6ZM1025.7 497.6L1019.5 510.1L1032.0 510.1ZM1069.9 451.1L1063.7 463.6L1076.2 463.6ZM1084.6 473.1L1078.4 485.6L1090.9 485.6ZM1099.4 467.1L1093.1 479.6L1105.6 479.6ZM1114.1 446.1L1107.8 458.6L1120.3 458.6ZM1128.8 472.4L1122.6 484.9L1135.1 484.9ZM1143.6 447.9L1137.3 460.4L1149.8 460.4ZM1158.3 436.4L1152.0 448.9L1164.5 448.9ZM1173.0 410.6L1166.8 423.1L1179.3 423.1ZM1187.8 409.9L1181.5 422.4L1194.0 422.4ZM1202.5 422.6L1196.2 435.1L1208.7 435.1ZM1217.2 402.9L1211.0 415.4L1223.5 415.4ZM1231.9 398.8L1225.7 411.2L1238.2 411.2ZM1246.7 398.1L1240.4 410.6L1252.9 410.6ZM1261.4 386.9L1255.2 399.4L1267.7 399.4ZM1276.1 376.4L1269.9 388.9L1282.4 388.9ZM1290.9 378.1L1284.6 390.6L1297.1 390.6ZM1305.6 362.4L1299.3 374.9L1311.8 374.9ZM1320.3 361.4L1314.1 373.9L1326.6 373.9ZM1335.0 355.1L1328.8 367.6L1341.3 367.6ZM1349.8 337.1L1343.5 349.6L1356.0 349.6ZM1364.5 327.6L1358.3 340.1L1370.8 340.1ZM1379.2 317.6L1373.0 330.1L1385.5 330.1ZM1394.0 315.9L1387.7 328.4L1400.2 328.4ZM1408.7 303.6L1402.5 316.1L1415.0 316.1ZM1423.4 302.1L1417.2 314.6L1429.7 314.6ZM1438.2 308.4L1431.9 320.9L1444.4 320.9ZM1452.9 320.1L1446.6 332.6L1459.1 332.6ZM1467.6 327.6L1461.4 340.1L1473.9 340.1ZM1482.3 325.4L1476.1 337.9L1488.6 337.9ZM1497.1 350.9L1490.8 363.4L1503.3 363.4ZM1511.8 352.9L1505.6 365.4L1518.1 365.4ZM1526.5 306.9L1520.3 319.4L1532.8 319.4ZM1541.3 312.6L1535.0 325.1L1547.5 325.1ZM1556.0 325.4L1549.8 337.9L1562.2 337.9ZM1570.7 324.8L1564.5 337.2L1577.0 337.2ZM1585.5 313.8L1579.2 326.2L1591.7 326.2ZM1600.2 313.4L1593.9 325.9L1606.4 325.9ZM1614.9 295.8L1608.7 308.2L1621.2 308.2ZM1629.7 255.8L1623.4 268.2L1635.9 268.2ZM1644.4 280.2L1638.1 292.8L1650.6 292.8Z" stroke="#ff0000" stroke-width="2.08" fill="#ff0000" stroke-linejoin="miter"/>
<line x1="966.8" y1="490.2" x2="1644.4" y2="277.3" stroke="#ff0000" stroke-width="3.125" stroke-linecap="square"/>
</g>
<rect x="958.1" y="40.6" width="691.8000000000001" height="631.1999999999999" fill="none" stroke="#000" stroke-width="1.75"/>
<path d="M966.80 671.8v8.2M1114.10 671.8v8.2M1261.40 671.8v8.2M1408.70 671.8v8.2M1556.00 671.8v8.2M958.1 597.80h-8.2M958.1 521.65h-8.2M958.1 445.50h-8.2M958.1 369.35h-8.2M958.1 293.20h-8.2M958.1 217.05h-8.2M958.1 140.90h-8.2M958.1 64.75h-8.2" stroke="#000" stroke-width="1.75" fill="none"/>
<text x="966.80" y="715.4" text-anchor="middle">10</text>
<text x="1114.10" y="715.4" text-anchor="middle">15</text>
<text x="1261.40" y="715.4" text-anchor="middle">20</text>
<text x="1408.70" y="715.4" text-anchor="middle">25</text>
<text x="1556.00" y="715.4" text-anchor="middle">30</text>
<text x="943.50" y="611.70" text-anchor="end">1.0</text>
<text x="943.50" y="535.55" text-anchor="end">1.5</text>
<text x="943.50" y="459.40" text-anchor="end">2.0</text>
<text x="943.50" y="383.25" text-anchor="end">2.5</text>
<text x="943.50" y="307.10" text-anchor="end">3.0</text>
<text x="943.50" y="230.95" text-anchor="end">3.5</text>
<text x="943.50" y="154.80" text-anchor="end">4.0</text>
<text x="943.50" y="78.65" text-anchor="end">4.5</text>
<text x="1304.00" y="27.5" text-anchor="middle">(b)</text>
<text x="1304.00" y="759.5" text-anchor="middle" style="font-size:37.1px">temperature (℃)</text>
<text transform="translate(868.6 357.3) rotate(-90)" text-anchor="middle" style="font-size:37.15px">precipitation (ln(mm))</text>
</svg></body></html>
